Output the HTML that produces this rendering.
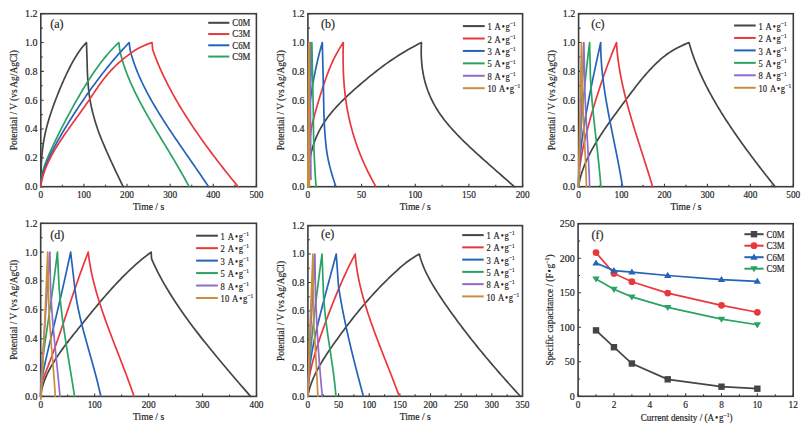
<!DOCTYPE html>
<html><head><meta charset="utf-8"><style>
html,body{margin:0;padding:0;background:#fff;}
svg{display:block;}
text{font-family:"Liberation Serif", serif;fill:#1e1e1e;stroke:#1e1e1e;stroke-width:0.18px;}
</style></head><body>
<svg width="809" height="435" viewBox="0 0 809 435">
<rect width="809" height="435" fill="#fff"/>
<path d="M40.8 186.7 v-3 M83.92 186.7 v-3 M127.04 186.7 v-3 M170.16 186.7 v-3 M213.28 186.7 v-3 M256.4 186.7 v-3 M62.36 186.7 v-2 M105.48 186.7 v-2 M148.6 186.7 v-2 M191.72 186.7 v-2 M234.84 186.7 v-2 M40.8 186.7 h3 M40.8 157.87 h3 M40.8 129.03 h3 M40.8 100.2 h3 M40.8 71.37 h3 M40.8 42.53 h3 M40.8 13.7 h3 M40.8 172.28 h2 M40.8 143.45 h2 M40.8 114.62 h2 M40.8 85.78 h2 M40.8 56.95 h2 M40.8 28.12 h2" stroke="#3c3c3c" stroke-width="1.1" fill="none"/>
<rect x="40.8" y="13.7" width="215.6" height="173" fill="none" stroke="#3c3c3c" stroke-width="1.6"/>
<text x="0" y="0" font-size="10" text-anchor="middle" transform="translate(40.8 197.7) scale(0.93 1)">0</text>
<text x="0" y="0" font-size="10" text-anchor="middle" transform="translate(83.92 197.7) scale(0.93 1)">100</text>
<text x="0" y="0" font-size="10" text-anchor="middle" transform="translate(127.04 197.7) scale(0.93 1)">200</text>
<text x="0" y="0" font-size="10" text-anchor="middle" transform="translate(170.16 197.7) scale(0.93 1)">300</text>
<text x="0" y="0" font-size="10" text-anchor="middle" transform="translate(213.28 197.7) scale(0.93 1)">400</text>
<text x="0" y="0" font-size="10" text-anchor="middle" transform="translate(256.4 197.7) scale(0.93 1)">500</text>
<text x="0" y="0" font-size="10" text-anchor="end" transform="translate(37.5 190.1)">0.0</text>
<text x="0" y="0" font-size="10" text-anchor="end" transform="translate(37.5 161.27)">0.2</text>
<text x="0" y="0" font-size="10" text-anchor="end" transform="translate(37.5 132.43)">0.4</text>
<text x="0" y="0" font-size="10" text-anchor="end" transform="translate(37.5 103.6)">0.6</text>
<text x="0" y="0" font-size="10" text-anchor="end" transform="translate(37.5 74.77)">0.8</text>
<text x="0" y="0" font-size="10" text-anchor="end" transform="translate(37.5 45.93)">1.0</text>
<text x="0" y="0" font-size="10" text-anchor="end" transform="translate(37.5 17.1)">1.2</text>
<text x="148.6" y="210.1" font-size="9.6" text-anchor="middle">Time / s</text>
<text x="0" y="0" font-size="9.6" text-anchor="middle" textLength="100" lengthAdjust="spacingAndGlyphs" transform="translate(17.3 100.2) rotate(-90)">Potential / V (vs Ag/AgCl)</text>
<text x="50.2" y="27.9" font-size="12" text-anchor="start">(a)</text>
<path d="M208.2 22.8H229.3" stroke="#454545" stroke-width="2"/>
<text x="232.3" y="26.1" font-size="9.5" text-anchor="start" textLength="18" lengthAdjust="spacingAndGlyphs">C0M</text>
<path d="M208.2 34.05H229.3" stroke="#e8383d" stroke-width="2"/>
<text x="232.3" y="37.35" font-size="9.5" text-anchor="start" textLength="18" lengthAdjust="spacingAndGlyphs">C3M</text>
<path d="M208.2 45.3H229.3" stroke="#2563b8" stroke-width="2"/>
<text x="232.3" y="48.6" font-size="9.5" text-anchor="start" textLength="18" lengthAdjust="spacingAndGlyphs">C6M</text>
<path d="M208.2 56.55H229.3" stroke="#2aa263" stroke-width="2"/>
<text x="232.3" y="59.85" font-size="9.5" text-anchor="start" textLength="18" lengthAdjust="spacingAndGlyphs">C9M</text>
<path d="M40.8 186.7L40.81 183.61L40.83 180.64L40.87 177.79L40.92 175.03L40.98 172.38L41.06 169.82L41.16 167.35L41.27 164.96L41.39 162.65L41.53 160.41L41.69 158.24L41.85 156.14L42.04 154.09L42.24 152.1L42.45 150.15L42.67 148.26L42.92 146.4L43.17 144.59L43.44 142.8L43.73 141.05L44.03 139.33L44.34 137.63L44.67 135.95L45.02 134.29L45.38 132.64L45.75 131.01L46.14 129.38L46.54 127.77L46.96 126.15L47.39 124.54L47.84 122.94L48.3 121.33L48.78 119.72L49.27 118.1L49.77 116.48L50.29 114.85L50.83 113.21L51.38 111.56L51.94 109.9L52.52 108.24L53.11 106.56L53.72 104.86L54.34 103.16L54.98 101.44L55.63 99.71L56.3 97.97L56.98 96.22L57.67 94.45L58.38 92.67L59.11 90.88L59.85 89.09L60.6 87.28L61.37 85.46L62.16 83.64L62.95 81.82L63.77 79.99L64.59 78.16L65.44 76.32L66.29 74.49L67.17 72.67L68.05 70.85L68.95 69.04L69.87 67.24L70.8 65.45L71.74 63.68L72.7 61.93L73.68 60.2L74.66 58.5L75.67 56.82L76.69 55.18L77.72 53.58L78.77 52.01L79.83 50.49L80.9 49.02L82 47.6L83.1 46.24L84.22 44.94L85.36 43.7L86.51 42.53L86.46 42.53L86.55 44.98L86.64 47.42L86.72 49.86L86.8 52.31L86.88 54.75L86.96 57.19L87.02 59.64L87.09 62.08L87.15 64.52L87.22 66.97L87.3 69.41L87.39 71.86L87.49 74.3L87.62 76.74L87.77 79.19L87.94 81.63L88.12 84.07L88.33 86.52L88.55 88.96L88.8 91.4L89.11 93.85L89.46 96.29L89.85 98.73L90.27 101.18L90.71 103.62L91.19 106.06L91.72 108.51L92.3 110.95L92.91 113.39L93.56 115.84L94.23 118.28L94.95 120.73L95.69 123.17L96.46 125.61L97.27 128.06L98.1 130.5L98.98 132.94L99.92 135.39L100.9 137.83L101.9 140.27L102.94 142.72L103.98 145.16L105.02 147.6L106.07 150.05L107.14 152.49L108.22 154.93L109.33 157.38L110.44 159.82L111.56 162.26L112.69 164.71L113.83 167.15L114.97 169.6L116.13 172.04L117.29 174.48L118.46 176.93L119.64 179.37L120.83 181.81L122.04 184.26L123.25 186.7" fill="none" stroke="#454545" stroke-width="1.7" stroke-linejoin="round" stroke-linecap="round"/>
<path d="M40.8 186.7L40.81 185.39L40.85 184.11L40.91 182.85L41 181.61L41.11 180.39L41.25 179.19L41.41 178L41.6 176.81L41.81 175.64L42.05 174.46L42.31 173.28L42.6 172.1L42.91 170.91L43.25 169.71L43.61 168.5L44 167.28L44.41 166.04L44.85 164.78L45.31 163.5L45.8 162.2L46.31 160.88L46.85 159.53L47.42 158.16L48 156.75L48.62 155.32L49.25 153.86L49.92 152.36L50.6 150.83L51.32 149.27L52.06 147.67L52.82 146.04L53.61 144.37L54.42 142.67L55.26 140.93L56.12 139.15L57.01 137.34L57.92 135.49L58.86 133.6L59.82 131.68L60.81 129.72L61.82 127.73L62.86 125.7L63.92 123.64L65.01 121.55L66.12 119.42L67.26 117.27L68.42 115.08L69.61 112.87L70.83 110.62L72.06 108.36L73.33 106.07L74.62 103.76L75.93 101.42L77.27 99.07L78.63 96.71L80.02 94.32L81.43 91.93L82.87 89.53L84.33 87.12L85.82 84.71L87.33 82.3L88.87 79.89L90.43 77.48L92.02 75.09L93.64 72.7L95.27 70.33L96.94 67.97L98.63 65.64L100.34 63.33L102.08 61.05L103.84 58.81L105.63 56.6L107.44 54.43L109.28 52.31L111.14 50.24L113.03 48.22L114.95 46.26L116.88 44.36L118.85 42.53L118.85 42.53L119.71 49.74L120.21 52.06L120.76 54.38L121.36 56.71L121.99 59.03L122.67 61.35L123.38 63.67L124.14 65.99L124.93 68.31L125.76 70.63L126.63 72.95L127.53 75.28L128.46 77.6L129.42 79.92L130.42 82.24L131.45 84.56L132.5 86.88L133.58 89.2L134.69 91.53L135.83 93.85L136.99 96.17L138.17 98.49L139.37 100.81L140.6 103.13L141.84 105.45L143.11 107.77L144.39 110.1L145.68 112.42L147 114.74L148.32 117.06L149.66 119.38L151.02 121.7L152.38 124.02L153.75 126.35L155.13 128.67L156.52 130.99L157.91 133.31L159.31 135.63L160.72 137.95L162.12 140.27L163.53 142.59L164.94 144.92L166.35 147.24L167.76 149.56L169.16 151.88L170.56 154.2L171.96 156.52L173.35 158.84L174.73 161.17L176.1 163.49L177.47 165.81L178.82 168.13L180.16 170.45L181.49 172.77L182.81 175.09L184.11 177.41L185.39 179.74L186.66 182.06L187.9 184.38L189.13 186.7" fill="none" stroke="#2aa263" stroke-width="1.7" stroke-linejoin="round" stroke-linecap="round"/>
<path d="M40.8 186.7L40.81 185.68L40.86 184.64L40.93 183.6L41.03 182.56L41.15 181.5L41.31 180.42L41.49 179.34L41.71 178.24L41.95 177.13L42.22 176L42.51 174.85L42.84 173.68L43.19 172.5L43.58 171.29L43.99 170.07L44.43 168.82L44.89 167.55L45.39 166.25L45.91 164.93L46.47 163.59L47.05 162.22L47.66 160.83L48.29 159.41L48.96 157.96L49.65 156.49L50.37 154.98L51.13 153.46L51.9 151.9L52.71 150.31L53.55 148.7L54.41 147.06L55.3 145.38L56.22 143.68L57.17 141.95L58.15 140.2L59.16 138.41L60.19 136.6L61.25 134.75L62.34 132.88L63.46 130.98L64.61 129.05L65.78 127.1L66.99 125.12L68.22 123.11L69.48 121.07L70.77 119.01L72.09 116.93L73.43 114.82L74.81 112.68L76.21 110.53L77.64 108.35L79.1 106.15L80.59 103.93L82.1 101.68L83.65 99.42L85.22 97.14L86.82 94.85L88.45 92.54L90.1 90.21L91.79 87.87L93.5 85.51L95.25 83.15L97.02 80.77L98.81 78.39L100.64 75.99L102.5 73.59L104.38 71.19L106.29 68.78L108.23 66.37L110.2 63.96L112.2 61.55L114.22 59.15L116.28 56.75L118.36 54.35L120.47 51.96L122.61 49.59L124.78 47.22L126.97 44.87L129.2 42.53L129.2 42.53L130.06 49.74L130.65 52.06L131.28 54.38L131.96 56.71L132.67 59.03L133.43 61.35L134.23 63.67L135.07 65.99L135.94 68.31L136.86 70.63L137.81 72.95L138.79 75.28L139.81 77.6L140.86 79.92L141.94 82.24L143.06 84.56L144.2 86.88L145.38 89.2L146.58 91.53L147.81 93.85L149.07 96.17L150.35 98.49L151.66 100.81L152.99 103.13L154.34 105.45L155.72 107.77L157.11 110.1L158.53 112.42L159.96 114.74L161.42 117.06L162.89 119.38L164.37 121.7L165.87 124.02L167.39 126.35L168.91 128.67L170.45 130.99L172 133.31L173.56 135.63L175.13 137.95L176.71 140.27L178.3 142.59L179.89 144.92L181.49 147.24L183.09 149.56L184.69 151.88L186.3 154.2L187.91 156.52L189.52 158.84L191.13 161.17L192.74 163.49L194.35 165.81L195.95 168.13L197.55 170.45L199.14 172.77L200.73 175.09L202.31 177.41L203.88 179.74L205.44 182.06L206.99 184.38L208.54 186.7" fill="none" stroke="#2563b8" stroke-width="1.7" stroke-linejoin="round" stroke-linecap="round"/>
<path d="M40.8 186.7L41.03 184.88L41.33 183.05L41.67 181.23L42.08 179.4L42.53 177.58L43.03 175.75L43.59 173.93L44.19 172.1L44.84 170.28L45.53 168.45L46.27 166.63L47.05 164.8L47.87 162.98L48.73 161.15L49.62 159.33L50.55 157.5L51.51 155.68L52.51 153.85L53.54 152.03L54.59 150.2L55.68 148.38L56.79 146.55L57.92 144.73L59.08 142.9L60.26 141.08L61.46 139.25L62.67 137.43L63.91 135.6L65.16 133.78L66.42 131.95L67.69 130.13L68.98 128.3L70.27 126.48L71.58 124.65L72.89 122.83L74.2 121L75.51 119.18L76.83 117.35L78.15 115.53L79.46 113.7L80.77 111.88L82.08 110.05L83.38 108.23L84.67 106.4L85.95 104.58L87.22 102.75L88.48 100.93L89.72 99.11L90.95 97.28L92.18 95.46L93.4 93.63L94.63 91.81L95.86 89.98L97.11 88.16L98.38 86.33L99.68 84.51L101 82.68L102.36 80.86L103.76 79.03L105.2 77.21L106.7 75.38L108.25 73.56L109.86 71.73L111.53 69.91L113.28 68.08L115.1 66.26L117.01 64.43L119 62.61L121.08 60.78L123.26 58.96L125.55 57.13L127.94 55.31L130.44 53.48L133.06 51.66L135.86 49.83L139 48.01L142.63 46.18L146.92 44.36L152.04 42.53L152.05 42.53L152.7 49.74L153.52 52.06L154.37 54.38L155.25 56.71L156.16 59.03L157.09 61.35L158.05 63.67L159.03 65.99L160.04 68.31L161.08 70.63L162.14 72.95L163.22 75.28L164.33 77.6L165.46 79.92L166.61 82.24L167.79 84.56L168.99 86.88L170.22 89.2L171.46 91.53L172.73 93.85L174.02 96.17L175.33 98.49L176.66 100.81L178.02 103.13L179.39 105.45L180.79 107.77L182.2 110.1L183.63 112.42L185.09 114.74L186.56 117.06L188.05 119.38L189.56 121.7L191.09 124.02L192.63 126.35L194.2 128.67L195.78 130.99L197.38 133.31L198.99 135.63L200.62 137.95L202.27 140.27L203.93 142.59L205.61 144.92L207.3 147.24L209.01 149.56L210.73 151.88L212.47 154.2L214.22 156.52L215.98 158.84L217.76 161.17L219.55 163.49L221.36 165.81L223.17 168.13L225 170.45L226.84 172.77L228.69 175.09L230.56 177.41L232.43 179.74L234.32 182.06L236.21 184.38L238.12 186.7" fill="none" stroke="#e8383d" stroke-width="1.7" stroke-linejoin="round" stroke-linecap="round"/>
<path d="M307.9 186.7 v-3 M361.57 186.7 v-3 M415.25 186.7 v-3 M468.93 186.7 v-3 M522.6 186.7 v-3 M334.74 186.7 v-2 M388.41 186.7 v-2 M442.09 186.7 v-2 M495.76 186.7 v-2 M307.9 186.7 h3 M307.9 157.87 h3 M307.9 129.03 h3 M307.9 100.2 h3 M307.9 71.37 h3 M307.9 42.53 h3 M307.9 13.7 h3 M307.9 172.28 h2 M307.9 143.45 h2 M307.9 114.62 h2 M307.9 85.78 h2 M307.9 56.95 h2 M307.9 28.12 h2" stroke="#3c3c3c" stroke-width="1.1" fill="none"/>
<rect x="307.9" y="13.7" width="214.7" height="173" fill="none" stroke="#3c3c3c" stroke-width="1.6"/>
<text x="0" y="0" font-size="10" text-anchor="middle" transform="translate(307.9 197.7) scale(0.93 1)">0</text>
<text x="0" y="0" font-size="10" text-anchor="middle" transform="translate(361.57 197.7) scale(0.93 1)">50</text>
<text x="0" y="0" font-size="10" text-anchor="middle" transform="translate(415.25 197.7) scale(0.93 1)">100</text>
<text x="0" y="0" font-size="10" text-anchor="middle" transform="translate(468.93 197.7) scale(0.93 1)">150</text>
<text x="0" y="0" font-size="10" text-anchor="middle" transform="translate(522.6 197.7) scale(0.93 1)">200</text>
<text x="0" y="0" font-size="10" text-anchor="end" transform="translate(304.6 190.1)">0.0</text>
<text x="0" y="0" font-size="10" text-anchor="end" transform="translate(304.6 161.27)">0.2</text>
<text x="0" y="0" font-size="10" text-anchor="end" transform="translate(304.6 132.43)">0.4</text>
<text x="0" y="0" font-size="10" text-anchor="end" transform="translate(304.6 103.6)">0.6</text>
<text x="0" y="0" font-size="10" text-anchor="end" transform="translate(304.6 74.77)">0.8</text>
<text x="0" y="0" font-size="10" text-anchor="end" transform="translate(304.6 45.93)">1.0</text>
<text x="0" y="0" font-size="10" text-anchor="end" transform="translate(304.6 17.1)">1.2</text>
<text x="415.25" y="210.1" font-size="9.6" text-anchor="middle">Time / s</text>
<text x="0" y="0" font-size="9.6" text-anchor="middle" textLength="100" lengthAdjust="spacingAndGlyphs" transform="translate(284.4 100.2) rotate(-90)">Potential / V (vs Ag/AgCl)</text>
<text x="321" y="27.9" font-size="12" text-anchor="start">(b)</text>
<path d="M462.9 26.1H484.7" stroke="#454545" stroke-width="2"/>
<text x="0" y="0" font-size="10" transform="translate(487.4 30.2) scale(0.86 1)">1 <tspan dx="0.9">A</tspan><tspan dx="1.0">&#8226;</tspan><tspan dx="1.0">g</tspan><tspan font-size="6.2" dy="-3.9" dx="0.3">&#8722;1</tspan></text>
<path d="M462.9 38.52H484.7" stroke="#e8383d" stroke-width="2"/>
<text x="0" y="0" font-size="10" transform="translate(487.4 42.62) scale(0.86 1)">2 <tspan dx="0.9">A</tspan><tspan dx="1.0">&#8226;</tspan><tspan dx="1.0">g</tspan><tspan font-size="6.2" dy="-3.9" dx="0.3">&#8722;1</tspan></text>
<path d="M462.9 50.94H484.7" stroke="#2563b8" stroke-width="2"/>
<text x="0" y="0" font-size="10" transform="translate(487.4 55.04) scale(0.86 1)">3 <tspan dx="0.9">A</tspan><tspan dx="1.0">&#8226;</tspan><tspan dx="1.0">g</tspan><tspan font-size="6.2" dy="-3.9" dx="0.3">&#8722;1</tspan></text>
<path d="M462.9 63.36H484.7" stroke="#2aa263" stroke-width="2"/>
<text x="0" y="0" font-size="10" transform="translate(487.4 67.46) scale(0.86 1)">5 <tspan dx="0.9">A</tspan><tspan dx="1.0">&#8226;</tspan><tspan dx="1.0">g</tspan><tspan font-size="6.2" dy="-3.9" dx="0.3">&#8722;1</tspan></text>
<path d="M462.9 75.78H484.7" stroke="#8f6bcb" stroke-width="2"/>
<text x="0" y="0" font-size="10" transform="translate(487.4 79.88) scale(0.86 1)">8 <tspan dx="0.9">A</tspan><tspan dx="1.0">&#8226;</tspan><tspan dx="1.0">g</tspan><tspan font-size="6.2" dy="-3.9" dx="0.3">&#8722;1</tspan></text>
<path d="M462.9 88.2H484.7" stroke="#c98e3a" stroke-width="2"/>
<text x="0" y="0" font-size="10" transform="translate(487.4 92.3) scale(0.86 1)">10 <tspan dx="0.9">A</tspan><tspan dx="1.0">&#8226;</tspan><tspan dx="1.0">g</tspan><tspan font-size="6.2" dy="-3.9" dx="0.3">&#8722;1</tspan></text>
<path d="M307.9 186.7L307.91 184.88L307.92 183.05L307.96 181.23L308 179.4L308.07 177.58L308.15 175.75L308.25 173.93L308.36 172.1L308.5 170.28L308.67 168.45L308.86 166.63L309.07 164.8L309.31 162.98L309.57 161.15L309.87 159.33L310.2 157.5L310.55 155.68L310.94 153.85L311.37 152.03L311.83 150.2L312.33 148.38L312.86 146.55L313.44 144.73L314.06 142.9L314.71 141.08L315.41 139.25L316.16 137.43L316.95 135.6L317.79 133.78L318.68 131.95L319.62 130.13L320.6 128.3L321.64 126.48L322.74 124.65L323.89 122.83L325.09 121L326.35 119.18L327.68 117.35L329.06 115.53L330.5 113.7L332 111.88L333.57 110.05L335.18 108.23L336.86 106.4L338.58 104.58L340.35 102.75L342.17 100.93L344.03 99.11L345.93 97.28L347.86 95.46L349.84 93.63L351.84 91.81L353.87 89.98L355.94 88.16L358.02 86.33L360.13 84.51L362.26 82.68L364.42 80.86L366.6 79.03L368.81 77.21L371.05 75.38L373.32 73.56L375.63 71.73L377.97 69.91L380.36 68.08L382.79 66.26L385.28 64.43L387.83 62.61L390.44 60.78L393.13 58.96L395.89 57.13L398.74 55.31L401.67 53.48L404.7 51.66L407.83 49.83L411.07 48.01L414.41 46.18L417.88 44.36L421.47 42.53L421.48 42.53L421.39 44.36L421.31 46.18L421.26 48.01L421.23 49.83L421.22 51.66L421.23 53.48L421.27 55.31L421.34 57.13L421.43 58.96L421.54 60.78L421.68 62.61L421.85 64.43L422.05 66.26L422.28 68.08L422.54 69.91L422.83 71.73L423.15 73.56L423.5 75.38L423.89 77.21L424.31 79.03L424.76 80.86L425.25 82.68L425.78 84.51L426.35 86.33L426.95 88.16L427.59 89.98L428.27 91.81L429 93.63L429.76 95.46L430.56 97.28L431.41 99.11L432.3 100.93L433.24 102.75L434.22 104.58L435.24 106.4L436.32 108.23L437.44 110.05L438.61 111.88L439.82 113.7L441.09 115.53L442.41 117.35L443.78 119.18L445.2 121L446.67 122.83L448.18 124.65L449.74 126.48L451.34 128.3L452.98 130.13L454.67 131.95L456.38 133.78L458.14 135.6L459.93 137.43L461.74 139.25L463.59 141.08L465.47 142.9L467.37 144.73L469.29 146.55L471.24 148.38L473.21 150.2L475.19 152.03L477.2 153.85L479.21 155.68L481.24 157.5L483.28 159.33L485.33 161.15L487.39 162.98L489.45 164.8L491.52 166.63L493.6 168.45L495.68 170.28L497.76 172.1L499.84 173.93L501.92 175.75L504 177.58L506.08 179.4L508.15 181.23L510.22 183.05L512.28 184.88L514.33 186.7" fill="none" stroke="#454545" stroke-width="1.7" stroke-linejoin="round" stroke-linecap="round"/>
<path d="M307.9 186.7L307.95 184.26L308 181.81L308.07 179.37L308.14 176.93L308.21 174.48L308.29 172.04L308.38 169.6L308.47 167.15L308.56 164.71L308.66 162.26L308.76 159.82L308.87 157.38L308.99 154.93L309.13 152.49L309.27 150.05L309.42 147.6L309.59 145.16L309.78 142.72L309.98 140.27L310.2 137.83L310.45 135.39L310.73 132.94L311.05 130.5L311.4 128.06L311.86 125.61L312.44 123.17L313.09 120.73L313.74 118.28L314.37 115.84L315.02 113.39L315.69 110.95L316.37 108.51L317.07 106.06L317.78 103.62L318.5 101.18L319.22 98.73L319.97 96.29L320.72 93.85L321.5 91.4L322.29 88.96L323.1 86.52L323.93 84.07L324.76 81.63L325.61 79.19L326.48 76.74L327.37 74.3L328.28 71.86L329.23 69.41L330.22 66.97L331.26 64.52L332.34 62.08L333.48 59.64L334.7 57.19L335.98 54.75L337.33 52.31L338.73 49.86L340.18 47.42L341.68 44.98L343.22 42.53L343.33 42.53L343.27 44.36L343.22 46.18L343.18 48.01L343.15 49.83L343.12 51.66L343.1 53.48L343.09 55.31L343.08 57.13L343.08 58.96L343.1 60.78L343.12 62.61L343.15 64.43L343.19 66.26L343.23 68.08L343.29 69.91L343.36 71.73L343.43 73.56L343.52 75.38L343.62 77.21L343.73 79.03L343.85 80.86L343.98 82.68L344.12 84.51L344.27 86.33L344.44 88.16L344.62 89.98L344.81 91.81L345.01 93.63L345.22 95.46L345.45 97.28L345.69 99.11L345.95 100.93L346.22 102.75L346.5 104.58L346.79 106.4L347.11 108.23L347.43 110.05L347.77 111.88L348.13 113.7L348.5 115.53L348.88 117.35L349.29 119.18L349.7 121L350.14 122.83L350.59 124.65L351.05 126.48L351.53 128.3L352.03 130.13L352.54 131.95L353.07 133.78L353.62 135.6L354.18 137.43L354.76 139.25L355.36 141.08L355.97 142.9L356.6 144.73L357.25 146.55L357.91 148.38L358.59 150.2L359.29 152.03L360 153.85L360.74 155.68L361.49 157.5L362.26 159.33L363.04 161.15L363.85 162.98L364.67 164.8L365.51 166.63L366.37 168.45L367.24 170.28L368.14 172.1L369.05 173.93L369.98 175.75L370.93 177.58L371.9 179.4L372.89 181.23L373.89 183.05L374.92 184.88L375.96 186.7" fill="none" stroke="#e8383d" stroke-width="1.7" stroke-linejoin="round" stroke-linecap="round"/>
<path d="M307.9 186.7L307.93 184.26L307.97 181.81L308.01 179.37L308.05 176.93L308.09 174.48L308.13 172.04L308.18 169.6L308.22 167.15L308.27 164.71L308.32 162.26L308.38 159.82L308.43 157.38L308.48 154.93L308.54 152.49L308.6 150.05L308.66 147.6L308.72 145.16L308.78 142.72L308.84 140.27L308.89 137.83L308.95 135.39L309.01 132.94L309.07 130.5L309.13 128.06L309.19 125.61L309.26 123.17L309.34 120.73L309.42 118.28L309.51 115.84L309.6 113.39L309.71 110.95L309.82 108.51L309.95 106.06L310.09 103.62L310.29 101.18L310.56 98.73L310.88 96.29L311.24 93.85L311.63 91.4L312.01 88.96L312.4 86.52L312.8 84.07L313.22 81.63L313.66 79.19L314.13 76.74L314.61 74.3L315.1 71.86L315.61 69.41L316.13 66.97L316.67 64.52L317.21 62.08L317.78 59.64L318.37 57.19L318.98 54.75L319.6 52.31L320.25 49.86L320.91 47.42L321.59 44.98L322.28 42.53L322.28 42.53L322.35 44.98L322.41 47.42L322.47 49.86L322.54 52.31L322.6 54.75L322.66 57.19L322.72 59.64L322.78 62.08L322.84 64.52L322.9 66.97L322.96 69.41L323.02 71.86L323.08 74.3L323.14 76.74L323.2 79.19L323.26 81.63L323.32 84.07L323.38 86.52L323.43 88.96L323.48 91.4L323.53 93.85L323.57 96.29L323.62 98.73L323.66 101.18L323.71 103.62L323.76 106.06L323.81 108.51L323.87 110.95L323.94 113.39L324.01 115.84L324.09 118.28L324.18 120.73L324.28 123.17L324.41 125.61L324.55 128.06L324.71 130.5L324.88 132.94L325.07 135.39L325.27 137.83L325.49 140.27L325.73 142.72L325.98 145.16L326.24 147.6L326.55 150.05L326.91 152.49L327.31 154.93L327.76 157.38L328.25 159.82L328.78 162.26L329.35 164.71L329.96 167.15L330.6 169.6L331.28 172.04L331.98 174.48L332.72 176.93L333.48 179.37L334.27 181.81L335.08 184.26L335.92 186.7" fill="none" stroke="#2563b8" stroke-width="1.7" stroke-linejoin="round" stroke-linecap="round"/>
<path d="M307.9 186.7L309.51 114.62L311.87 42.53L311.87 42.53L313.37 115.05L313.38 116.26L313.38 117.48L313.38 118.69L313.39 119.91L313.39 121.12L313.4 122.34L313.41 123.55L313.42 124.76L313.44 125.98L313.45 127.19L313.47 128.41L313.49 129.62L313.51 130.84L313.53 132.05L313.55 133.27L313.57 134.48L313.6 135.69L313.63 136.91L313.65 138.12L313.68 139.34L313.72 140.55L313.75 141.77L313.78 142.98L313.82 144.2L313.86 145.41L313.9 146.62L313.94 147.84L313.98 149.05L314.02 150.27L314.07 151.48L314.12 152.7L314.17 153.91L314.22 155.13L314.27 156.34L314.32 157.55L314.38 158.77L314.43 159.98L314.49 161.2L314.55 162.41L314.61 163.63L314.67 164.84L314.74 166.05L314.8 167.27L314.87 168.48L314.94 169.7L315.01 170.91L315.08 172.13L315.15 173.34L315.23 174.56L315.3 175.77L315.38 176.98L315.46 178.2L315.54 179.41L315.62 180.63L315.71 181.84L315.79 183.06L315.88 184.27L315.97 185.49L316.06 186.7" fill="none" stroke="#2aa263" stroke-width="1.7" stroke-linejoin="round" stroke-linecap="round"/>
<path d="M307.9 186.7L309.19 114.62L310.05 42.53L310.05 42.53L310.48 114.62L310.91 179.49" fill="none" stroke="#8f6bcb" stroke-width="1.7" stroke-linejoin="round" stroke-linecap="round"/>
<path d="M307.9 186.7L308.54 114.62L308.97 42.53L308.97 42.53L309.08 114.62L309.19 186.7" fill="none" stroke="#c98e3a" stroke-width="2.0" stroke-linejoin="round" stroke-linecap="round"/>
<path d="M578.6 186.7 v-3 M621.54 186.7 v-3 M664.48 186.7 v-3 M707.42 186.7 v-3 M750.36 186.7 v-3 M793.3 186.7 v-3 M600.07 186.7 v-2 M643.01 186.7 v-2 M685.95 186.7 v-2 M728.89 186.7 v-2 M771.83 186.7 v-2 M578.6 186.7 h3 M578.6 157.87 h3 M578.6 129.03 h3 M578.6 100.2 h3 M578.6 71.37 h3 M578.6 42.53 h3 M578.6 13.7 h3 M578.6 172.28 h2 M578.6 143.45 h2 M578.6 114.62 h2 M578.6 85.78 h2 M578.6 56.95 h2 M578.6 28.12 h2" stroke="#3c3c3c" stroke-width="1.1" fill="none"/>
<rect x="578.6" y="13.7" width="214.7" height="173" fill="none" stroke="#3c3c3c" stroke-width="1.6"/>
<text x="0" y="0" font-size="10" text-anchor="middle" transform="translate(578.6 197.7) scale(0.93 1)">0</text>
<text x="0" y="0" font-size="10" text-anchor="middle" transform="translate(621.54 197.7) scale(0.93 1)">100</text>
<text x="0" y="0" font-size="10" text-anchor="middle" transform="translate(664.48 197.7) scale(0.93 1)">200</text>
<text x="0" y="0" font-size="10" text-anchor="middle" transform="translate(707.42 197.7) scale(0.93 1)">300</text>
<text x="0" y="0" font-size="10" text-anchor="middle" transform="translate(750.36 197.7) scale(0.93 1)">400</text>
<text x="0" y="0" font-size="10" text-anchor="middle" transform="translate(793.3 197.7) scale(0.93 1)">500</text>
<text x="0" y="0" font-size="10" text-anchor="end" transform="translate(575.3 190.1)">0.0</text>
<text x="0" y="0" font-size="10" text-anchor="end" transform="translate(575.3 161.27)">0.2</text>
<text x="0" y="0" font-size="10" text-anchor="end" transform="translate(575.3 132.43)">0.4</text>
<text x="0" y="0" font-size="10" text-anchor="end" transform="translate(575.3 103.6)">0.6</text>
<text x="0" y="0" font-size="10" text-anchor="end" transform="translate(575.3 74.77)">0.8</text>
<text x="0" y="0" font-size="10" text-anchor="end" transform="translate(575.3 45.93)">1.0</text>
<text x="0" y="0" font-size="10" text-anchor="end" transform="translate(575.3 17.1)">1.2</text>
<text x="685.95" y="210.1" font-size="9.6" text-anchor="middle">Time / s</text>
<text x="0" y="0" font-size="9.6" text-anchor="middle" textLength="100" lengthAdjust="spacingAndGlyphs" transform="translate(555.1 100.2) rotate(-90)">Potential / V (vs Ag/AgCl)</text>
<text x="591.3" y="27.9" font-size="12" text-anchor="start">(c)</text>
<path d="M734.1 25.5H755.7" stroke="#454545" stroke-width="2"/>
<text x="0" y="0" font-size="10" transform="translate(758.4 29.6) scale(0.86 1)">1 <tspan dx="0.9">A</tspan><tspan dx="1.0">&#8226;</tspan><tspan dx="1.0">g</tspan><tspan font-size="6.2" dy="-3.9" dx="0.3">&#8722;1</tspan></text>
<path d="M734.1 37.95H755.7" stroke="#e8383d" stroke-width="2"/>
<text x="0" y="0" font-size="10" transform="translate(758.4 42.05) scale(0.86 1)">2 <tspan dx="0.9">A</tspan><tspan dx="1.0">&#8226;</tspan><tspan dx="1.0">g</tspan><tspan font-size="6.2" dy="-3.9" dx="0.3">&#8722;1</tspan></text>
<path d="M734.1 50.4H755.7" stroke="#2563b8" stroke-width="2"/>
<text x="0" y="0" font-size="10" transform="translate(758.4 54.5) scale(0.86 1)">3 <tspan dx="0.9">A</tspan><tspan dx="1.0">&#8226;</tspan><tspan dx="1.0">g</tspan><tspan font-size="6.2" dy="-3.9" dx="0.3">&#8722;1</tspan></text>
<path d="M734.1 62.85H755.7" stroke="#2aa263" stroke-width="2"/>
<text x="0" y="0" font-size="10" transform="translate(758.4 66.95) scale(0.86 1)">5 <tspan dx="0.9">A</tspan><tspan dx="1.0">&#8226;</tspan><tspan dx="1.0">g</tspan><tspan font-size="6.2" dy="-3.9" dx="0.3">&#8722;1</tspan></text>
<path d="M734.1 75.3H755.7" stroke="#8f6bcb" stroke-width="2"/>
<text x="0" y="0" font-size="10" transform="translate(758.4 79.4) scale(0.86 1)">8 <tspan dx="0.9">A</tspan><tspan dx="1.0">&#8226;</tspan><tspan dx="1.0">g</tspan><tspan font-size="6.2" dy="-3.9" dx="0.3">&#8722;1</tspan></text>
<path d="M734.1 87.75H755.7" stroke="#c98e3a" stroke-width="2"/>
<text x="0" y="0" font-size="10" transform="translate(758.4 91.85) scale(0.86 1)">10 <tspan dx="0.9">A</tspan><tspan dx="1.0">&#8226;</tspan><tspan dx="1.0">g</tspan><tspan font-size="6.2" dy="-3.9" dx="0.3">&#8722;1</tspan></text>
<path d="M578.6 186.7L578.87 184.88L579.18 183.05L579.54 181.23L579.94 179.4L580.39 177.58L580.88 175.75L581.41 173.93L581.98 172.1L582.6 170.28L583.25 168.45L583.93 166.63L584.66 164.8L585.42 162.98L586.21 161.15L587.04 159.33L587.9 157.5L588.79 155.68L589.71 153.85L590.66 152.03L591.64 150.2L592.65 148.38L593.68 146.55L594.74 144.73L595.82 142.9L596.92 141.08L598.05 139.25L599.2 137.43L600.37 135.6L601.55 133.78L602.76 131.95L603.98 130.13L605.22 128.3L606.48 126.48L607.74 124.65L609.02 122.83L610.32 121L611.62 119.18L612.93 117.35L614.26 115.53L615.59 113.7L616.92 111.88L618.27 110.05L619.61 108.23L620.97 106.4L622.32 104.58L623.68 102.75L625.03 100.93L626.39 99.11L627.75 97.28L629.1 95.46L630.46 93.63L631.83 91.81L633.21 89.98L634.6 88.16L636 86.33L637.43 84.51L638.87 82.68L640.34 80.86L641.84 79.03L643.37 77.21L644.93 75.38L646.52 73.56L648.16 71.73L649.84 69.91L651.56 68.08L653.33 66.26L655.15 64.43L657.03 62.61L658.97 60.78L661.02 58.96L663.19 57.13L665.53 55.31L668.06 53.48L670.81 51.66L673.82 49.83L677.11 48.01L680.71 46.18L684.66 44.36L688.99 42.53L688.99 42.53L689.5 44.36L690.04 46.18L690.59 48.01L691.16 49.83L691.75 51.66L692.36 53.48L692.99 55.31L693.64 57.13L694.31 58.96L695 60.78L695.7 62.61L696.43 64.43L697.17 66.26L697.93 68.08L698.7 69.91L699.5 71.73L700.31 73.56L701.14 75.38L701.98 77.21L702.84 79.03L703.72 80.86L704.61 82.68L705.52 84.51L706.44 86.33L707.38 88.16L708.34 89.98L709.31 91.81L710.29 93.63L711.29 95.46L712.31 97.28L713.33 99.11L714.37 100.93L715.43 102.75L716.5 104.58L717.58 106.4L718.68 108.23L719.78 110.05L720.9 111.88L722.04 113.7L723.18 115.53L724.34 117.35L725.51 119.18L726.69 121L727.88 122.83L729.08 124.65L730.3 126.48L731.52 128.3L732.76 130.13L734 131.95L735.26 133.78L736.52 135.6L737.8 137.43L739.08 139.25L740.37 141.08L741.68 142.9L742.99 144.73L744.31 146.55L745.64 148.38L746.97 150.2L748.32 152.03L749.67 153.85L751.03 155.68L752.4 157.5L753.77 159.33L755.15 161.15L756.54 162.98L757.93 164.8L759.33 166.63L760.74 168.45L762.15 170.28L763.57 172.1L764.99 173.93L766.42 175.75L767.86 177.58L769.29 179.4L770.74 181.23L772.18 183.05L773.64 184.88L775.09 186.7" fill="none" stroke="#454545" stroke-width="1.7" stroke-linejoin="round" stroke-linecap="round"/>
<path d="M578.6 186.7L578.61 185.3L578.62 183.9L578.65 182.51L578.7 181.12L578.75 179.74L578.82 178.36L578.9 176.98L578.99 175.6L579.09 174.22L579.21 172.83L579.34 171.44L579.47 170.05L579.63 168.65L579.79 167.24L579.97 165.83L580.16 164.4L580.36 162.97L580.57 161.52L580.79 160.07L581.03 158.6L581.28 157.12L581.54 155.62L581.81 154.12L582.1 152.59L582.4 151.05L582.71 149.5L583.03 147.93L583.36 146.34L583.71 144.73L584.07 143.1L584.44 141.46L584.82 139.8L585.22 138.12L585.62 136.42L586.04 134.7L586.47 132.96L586.92 131.2L587.37 129.42L587.84 127.62L588.32 125.8L588.81 123.97L589.32 122.11L589.83 120.23L590.36 118.33L590.9 116.41L591.46 114.47L592.02 112.51L592.6 110.53L593.19 108.53L593.79 106.52L594.4 104.48L595.03 102.43L595.67 100.36L596.32 98.27L596.98 96.17L597.65 94.05L598.34 91.91L599.04 89.76L599.75 87.59L600.47 85.42L601.21 83.22L601.95 81.02L602.71 78.8L603.48 76.58L604.27 74.34L605.06 72.09L605.87 69.84L606.69 67.58L607.52 65.31L608.37 63.04L609.23 60.76L610.09 58.48L610.98 56.2L611.87 53.92L612.77 51.63L613.69 49.35L614.62 47.07L615.56 44.8L616.52 42.53L616.52 42.53L616.62 44.36L616.74 46.18L616.87 48.01L617.02 49.83L617.19 51.66L617.37 53.48L617.57 55.31L617.78 57.13L618 58.96L618.24 60.78L618.49 62.61L618.75 64.43L619.03 66.26L619.32 68.08L619.62 69.91L619.94 71.73L620.26 73.56L620.6 75.38L620.95 77.21L621.31 79.03L621.68 80.86L622.06 82.68L622.46 84.51L622.86 86.33L623.27 88.16L623.69 89.98L624.12 91.81L624.56 93.63L625.01 95.46L625.47 97.28L625.93 99.11L626.41 100.93L626.89 102.75L627.38 104.58L627.87 106.4L628.37 108.23L628.88 110.05L629.4 111.88L629.92 113.7L630.44 115.53L630.97 117.35L631.51 119.18L632.05 121L632.6 122.83L633.15 124.65L633.71 126.48L634.27 128.3L634.83 130.13L635.39 131.95L635.96 133.78L636.54 135.6L637.11 137.43L637.69 139.25L638.26 141.08L638.84 142.9L639.43 144.73L640.01 146.55L640.59 148.38L641.18 150.2L641.76 152.03L642.35 153.85L642.93 155.68L643.52 157.5L644.1 159.33L644.68 161.15L645.26 162.98L645.84 164.8L646.42 166.63L647 168.45L647.57 170.28L648.14 172.1L648.71 173.93L649.28 175.75L649.84 177.58L650.4 179.4L650.95 181.23L651.5 183.05L652.04 184.88L652.59 186.7" fill="none" stroke="#e8383d" stroke-width="1.7" stroke-linejoin="round" stroke-linecap="round"/>
<path d="M578.6 186.7L578.6 185.28L578.61 183.85L578.63 182.42L578.66 180.99L578.69 179.55L578.73 178.11L578.77 176.67L578.83 175.22L578.89 173.76L578.95 172.3L579.03 170.83L579.11 169.36L579.2 167.88L579.29 166.4L579.4 164.91L579.51 163.41L579.62 161.91L579.75 160.39L579.88 158.87L580.02 157.34L580.16 155.81L580.31 154.26L580.47 152.71L580.64 151.14L580.81 149.57L581 147.98L581.18 146.39L581.38 144.79L581.58 143.17L581.79 141.55L582.01 139.91L582.23 138.26L582.46 136.6L582.7 134.93L582.94 133.24L583.19 131.55L583.45 129.83L583.72 128.11L583.99 126.37L584.27 124.62L584.56 122.86L584.85 121.08L585.15 119.28L585.46 117.48L585.78 115.65L586.1 113.81L586.43 111.96L586.76 110.08L587.11 108.2L587.46 106.29L587.82 104.37L588.18 102.43L588.55 100.47L588.93 98.5L589.32 96.51L589.71 94.5L590.11 92.47L590.52 90.42L590.93 88.35L591.36 86.27L591.78 84.16L592.22 82.03L592.66 79.89L593.11 77.72L593.57 75.53L594.03 73.32L594.51 71.09L594.98 68.83L595.47 66.56L595.96 64.26L596.46 61.94L596.97 59.6L597.48 57.23L598 54.84L598.53 52.43L599.07 49.99L599.61 47.53L600.16 45.04L600.71 42.53L600.71 42.53L600.71 44.36L600.72 46.18L600.75 48.01L600.79 49.83L600.84 51.66L600.9 53.48L600.98 55.31L601.07 57.13L601.17 58.96L601.28 60.78L601.41 62.61L601.54 64.43L601.69 66.26L601.85 68.08L602.02 69.91L602.2 71.73L602.38 73.56L602.58 75.38L602.79 77.21L603.01 79.03L603.23 80.86L603.47 82.68L603.71 84.51L603.96 86.33L604.22 88.16L604.48 89.98L604.76 91.81L605.04 93.63L605.33 95.46L605.62 97.28L605.92 99.11L606.23 100.93L606.54 102.75L606.86 104.58L607.18 106.4L607.51 108.23L607.84 110.05L608.17 111.88L608.51 113.7L608.86 115.53L609.21 117.35L609.56 119.18L609.91 121L610.27 122.83L610.63 124.65L610.99 126.48L611.36 128.3L611.73 130.13L612.09 131.95L612.46 133.78L612.83 135.6L613.2 137.43L613.57 139.25L613.95 141.08L614.32 142.9L614.69 144.73L615.06 146.55L615.43 148.38L615.8 150.2L616.16 152.03L616.53 153.85L616.89 155.68L617.25 157.5L617.61 159.33L617.97 161.15L618.32 162.98L618.67 164.8L619.02 166.63L619.36 168.45L619.7 170.28L620.04 172.1L620.37 173.93L620.69 175.75L621.01 177.58L621.33 179.4L621.64 181.23L621.94 183.05L622.24 184.88L622.53 186.7" fill="none" stroke="#2563b8" stroke-width="1.7" stroke-linejoin="round" stroke-linecap="round"/>
<path d="M578.6 186.7L578.6 185.3L578.61 183.89L578.62 182.47L578.63 181.04L578.64 179.6L578.66 178.15L578.69 176.68L578.71 175.21L578.74 173.72L578.78 172.23L578.81 170.72L578.85 169.2L578.9 167.67L578.95 166.13L579 164.58L579.05 163.02L579.11 161.44L579.17 159.86L579.24 158.26L579.3 156.66L579.38 155.04L579.45 153.41L579.53 151.77L579.61 150.12L579.7 148.46L579.79 146.79L579.88 145.11L579.98 143.42L580.08 141.71L580.19 140L580.29 138.27L580.4 136.53L580.52 134.78L580.64 133.02L580.76 131.25L580.88 129.47L581.01 127.68L581.14 125.88L581.28 124.06L581.42 122.24L581.56 120.4L581.71 118.56L581.86 116.7L582.01 114.83L582.17 112.95L582.33 111.06L582.49 109.16L582.66 107.25L582.83 105.32L583 103.39L583.18 101.44L583.36 99.49L583.55 97.52L583.74 95.54L583.93 93.55L584.12 91.55L584.32 89.54L584.53 87.52L584.73 85.49L584.94 83.44L585.15 81.39L585.37 79.32L585.59 77.25L585.81 75.16L586.04 73.06L586.27 70.95L586.51 68.83L586.74 66.7L586.99 64.56L587.23 62.4L587.48 60.24L587.73 58.06L587.99 55.88L588.25 53.68L588.51 51.47L588.77 49.26L589.04 47.03L589.32 44.78L589.59 42.53L589.59 42.53L590.41 75.69L590.49 77.57L590.58 79.45L590.68 81.34L590.79 83.22L590.9 85.1L591.02 86.98L591.15 88.86L591.28 90.74L591.42 92.63L591.56 94.51L591.71 96.39L591.87 98.27L592.02 100.15L592.19 102.03L592.36 103.91L592.53 105.8L592.71 107.68L592.89 109.56L593.07 111.44L593.26 113.32L593.46 115.2L593.65 117.08L593.85 118.97L594.05 120.85L594.25 122.73L594.45 124.61L594.66 126.49L594.87 128.37L595.08 130.26L595.29 132.14L595.5 134.02L595.71 135.9L595.92 137.78L596.14 139.66L596.35 141.54L596.56 143.43L596.77 145.31L596.99 147.19L597.2 149.07L597.41 150.95L597.62 152.83L597.82 154.71L598.03 156.6L598.23 158.48L598.43 160.36L598.63 162.24L598.83 164.12L599.02 166L599.21 167.89L599.4 169.77L599.58 171.65L599.76 173.53L599.93 175.41L600.1 177.29L600.27 179.17L600.43 181.06L600.59 182.94L600.74 184.82L600.89 186.7" fill="none" stroke="#2aa263" stroke-width="1.7" stroke-linejoin="round" stroke-linecap="round"/>
<path d="M578.6 186.7L581.18 114.62L583.88 42.53L583.88 42.53L584.61 78.57L584.64 80.41L584.67 82.24L584.71 84.07L584.75 85.91L584.79 87.74L584.84 89.57L584.9 91.4L584.96 93.24L585.02 95.07L585.09 96.9L585.16 98.73L585.23 100.57L585.31 102.4L585.39 104.23L585.48 106.06L585.56 107.9L585.65 109.73L585.74 111.56L585.84 113.39L585.93 115.23L586.03 117.06L586.13 118.89L586.23 120.73L586.33 122.56L586.44 124.39L586.54 126.22L586.65 128.06L586.76 129.89L586.87 131.72L586.98 133.55L587.08 135.39L587.19 137.22L587.3 139.05L587.41 140.88L587.52 142.72L587.63 144.55L587.74 146.38L587.84 148.21L587.95 150.05L588.05 151.88L588.15 153.71L588.26 155.55L588.36 157.38L588.45 159.21L588.55 161.04L588.64 162.88L588.74 164.71L588.82 166.54L588.91 168.37L589 170.21L589.08 172.04L589.15 173.87L589.23 175.7L589.3 177.54L589.36 179.37L589.43 181.2L589.49 183.03L589.54 184.87L589.59 186.7" fill="none" stroke="#8f6bcb" stroke-width="1.7" stroke-linejoin="round" stroke-linecap="round"/>
<path d="M578.6 186.7L579.89 114.62L581.52 42.53L581.52 42.53L582.25 78.57L582.27 80.41L582.3 82.24L582.33 84.07L582.36 85.91L582.4 87.74L582.44 89.57L582.48 91.4L582.53 93.24L582.58 95.07L582.64 96.9L582.69 98.73L582.75 100.57L582.82 102.4L582.88 104.23L582.95 106.06L583.02 107.9L583.1 109.73L583.17 111.56L583.25 113.39L583.33 115.23L583.41 117.06L583.5 118.89L583.58 120.73L583.66 122.56L583.75 124.39L583.84 126.22L583.93 128.06L584.02 129.89L584.11 131.72L584.2 133.55L584.29 135.39L584.38 137.22L584.47 139.05L584.56 140.88L584.65 142.72L584.74 144.55L584.83 146.38L584.92 148.21L585.01 150.05L585.1 151.88L585.19 153.71L585.27 155.55L585.36 157.38L585.44 159.21L585.52 161.04L585.6 162.88L585.68 164.71L585.75 166.54L585.83 168.37L585.9 170.21L585.97 172.04L586.03 173.87L586.1 175.7L586.16 177.54L586.22 179.37L586.27 181.2L586.32 183.03L586.37 184.87L586.42 186.7" fill="none" stroke="#c98e3a" stroke-width="1.7" stroke-linejoin="round" stroke-linecap="round"/>
<path d="M40.7 396.4 v-3 M94.65 396.4 v-3 M148.6 396.4 v-3 M202.55 396.4 v-3 M256.5 396.4 v-3 M67.68 396.4 v-2 M121.62 396.4 v-2 M175.57 396.4 v-2 M229.52 396.4 v-2 M40.7 396.4 h3 M40.7 367.55 h3 M40.7 338.7 h3 M40.7 309.85 h3 M40.7 281 h3 M40.7 252.15 h3 M40.7 223.3 h3 M40.7 381.97 h2 M40.7 353.12 h2 M40.7 324.27 h2 M40.7 295.43 h2 M40.7 266.57 h2 M40.7 237.72 h2" stroke="#3c3c3c" stroke-width="1.1" fill="none"/>
<rect x="40.7" y="223.3" width="215.8" height="173.1" fill="none" stroke="#3c3c3c" stroke-width="1.6"/>
<text x="0" y="0" font-size="10" text-anchor="middle" transform="translate(40.7 408) scale(0.93 1)">0</text>
<text x="0" y="0" font-size="10" text-anchor="middle" transform="translate(94.65 408) scale(0.93 1)">100</text>
<text x="0" y="0" font-size="10" text-anchor="middle" transform="translate(148.6 408) scale(0.93 1)">200</text>
<text x="0" y="0" font-size="10" text-anchor="middle" transform="translate(202.55 408) scale(0.93 1)">300</text>
<text x="0" y="0" font-size="10" text-anchor="middle" transform="translate(256.5 408) scale(0.93 1)">400</text>
<text x="0" y="0" font-size="10" text-anchor="end" transform="translate(37.4 399.8)">0.0</text>
<text x="0" y="0" font-size="10" text-anchor="end" transform="translate(37.4 370.95)">0.2</text>
<text x="0" y="0" font-size="10" text-anchor="end" transform="translate(37.4 342.1)">0.4</text>
<text x="0" y="0" font-size="10" text-anchor="end" transform="translate(37.4 313.25)">0.6</text>
<text x="0" y="0" font-size="10" text-anchor="end" transform="translate(37.4 284.4)">0.8</text>
<text x="0" y="0" font-size="10" text-anchor="end" transform="translate(37.4 255.55)">1.0</text>
<text x="0" y="0" font-size="10" text-anchor="end" transform="translate(37.4 226.7)">1.2</text>
<text x="148.6" y="420.4" font-size="9.6" text-anchor="middle">Time / s</text>
<text x="0" y="0" font-size="9.6" text-anchor="middle" textLength="100" lengthAdjust="spacingAndGlyphs" transform="translate(17.3 309.85) rotate(-90)">Potential / V (vs Ag/AgCl)</text>
<text x="50.2" y="238.5" font-size="12" text-anchor="start">(d)</text>
<path d="M196.1 235.7H217.9" stroke="#454545" stroke-width="2"/>
<text x="0" y="0" font-size="10" transform="translate(220.6 239.8) scale(0.86 1)">1 <tspan dx="0.9">A</tspan><tspan dx="1.0">&#8226;</tspan><tspan dx="1.0">g</tspan><tspan font-size="6.2" dy="-3.9" dx="0.3">&#8722;1</tspan></text>
<path d="M196.1 248.16H217.9" stroke="#e8383d" stroke-width="2"/>
<text x="0" y="0" font-size="10" transform="translate(220.6 252.26) scale(0.86 1)">2 <tspan dx="0.9">A</tspan><tspan dx="1.0">&#8226;</tspan><tspan dx="1.0">g</tspan><tspan font-size="6.2" dy="-3.9" dx="0.3">&#8722;1</tspan></text>
<path d="M196.1 260.62H217.9" stroke="#2563b8" stroke-width="2"/>
<text x="0" y="0" font-size="10" transform="translate(220.6 264.72) scale(0.86 1)">3 <tspan dx="0.9">A</tspan><tspan dx="1.0">&#8226;</tspan><tspan dx="1.0">g</tspan><tspan font-size="6.2" dy="-3.9" dx="0.3">&#8722;1</tspan></text>
<path d="M196.1 273.08H217.9" stroke="#2aa263" stroke-width="2"/>
<text x="0" y="0" font-size="10" transform="translate(220.6 277.18) scale(0.86 1)">5 <tspan dx="0.9">A</tspan><tspan dx="1.0">&#8226;</tspan><tspan dx="1.0">g</tspan><tspan font-size="6.2" dy="-3.9" dx="0.3">&#8722;1</tspan></text>
<path d="M196.1 285.54H217.9" stroke="#8f6bcb" stroke-width="2"/>
<text x="0" y="0" font-size="10" transform="translate(220.6 289.64) scale(0.86 1)">8 <tspan dx="0.9">A</tspan><tspan dx="1.0">&#8226;</tspan><tspan dx="1.0">g</tspan><tspan font-size="6.2" dy="-3.9" dx="0.3">&#8722;1</tspan></text>
<path d="M196.1 298H217.9" stroke="#c98e3a" stroke-width="2"/>
<text x="0" y="0" font-size="10" transform="translate(220.6 302.1) scale(0.86 1)">10 <tspan dx="0.9">A</tspan><tspan dx="1.0">&#8226;</tspan><tspan dx="1.0">g</tspan><tspan font-size="6.2" dy="-3.9" dx="0.3">&#8722;1</tspan></text>
<path d="M40.7 396.4L40.9 394.57L41.16 392.75L41.49 390.92L41.88 389.1L42.33 387.27L42.83 385.44L43.4 383.62L44.01 381.79L44.68 379.97L45.41 378.14L46.18 376.31L47 374.49L47.86 372.66L48.77 370.84L49.73 369.01L50.72 367.18L51.75 365.36L52.83 363.53L53.93 361.71L55.07 359.88L56.25 358.06L57.46 356.23L58.69 354.4L59.95 352.58L61.24 350.75L62.56 348.93L63.89 347.1L65.25 345.27L66.63 343.45L68.02 341.62L69.43 339.8L70.86 337.97L72.29 336.14L73.74 334.32L75.2 332.49L76.66 330.67L78.13 328.84L79.61 327.01L81.09 325.19L82.57 323.36L84.04 321.54L85.52 319.71L87 317.88L88.48 316.06L89.96 314.23L91.45 312.41L92.94 310.58L94.44 308.75L95.95 306.93L97.46 305.1L98.99 303.28L100.52 301.45L102.07 299.62L103.63 297.8L105.21 295.97L106.8 294.15L108.41 292.32L110.03 290.49L111.67 288.67L113.34 286.84L115.02 285.02L116.73 283.19L118.46 281.37L120.21 279.54L121.99 277.71L123.8 275.89L125.63 274.06L127.5 272.24L129.39 270.41L131.32 268.58L133.28 266.76L135.3 264.93L137.36 263.11L139.48 261.28L141.67 259.45L143.93 257.63L146.26 255.8L148.68 253.98L151.18 252.15L151.19 252.15L151.51 258.64L152.27 260.39L153.04 262.13L153.84 263.87L154.65 265.62L155.48 267.36L156.33 269.1L157.2 270.85L158.08 272.59L158.99 274.34L159.9 276.08L160.84 277.82L161.79 279.57L162.76 281.31L163.74 283.05L164.74 284.8L165.76 286.54L166.79 288.29L167.83 290.03L168.89 291.77L169.97 293.52L171.05 295.26L172.16 297L173.27 298.75L174.4 300.49L175.55 302.24L176.7 303.98L177.87 305.72L179.06 307.47L180.25 309.21L181.46 310.95L182.68 312.7L183.91 314.44L185.15 316.19L186.4 317.93L187.67 319.67L188.94 321.42L190.23 323.16L191.52 324.9L192.83 326.65L194.14 328.39L195.47 330.14L196.8 331.88L198.15 333.62L199.5 335.37L200.86 337.11L202.23 338.86L203.61 340.6L204.99 342.34L206.39 344.09L207.79 345.83L209.19 347.57L210.61 349.32L212.03 351.06L213.46 352.81L214.89 354.55L216.33 356.29L217.78 358.04L219.23 359.78L220.69 361.52L222.15 363.27L223.61 365.01L225.09 366.76L226.56 368.5L228.04 370.24L229.52 371.99L231.01 373.73L232.5 375.47L234 377.22L235.49 378.96L236.99 380.71L238.49 382.45L240 384.19L241.5 385.94L243.01 387.68L244.52 389.42L246.03 391.17L247.54 392.91L249.05 394.66L250.57 396.4" fill="none" stroke="#454545" stroke-width="1.7" stroke-linejoin="round" stroke-linecap="round"/>
<path d="M40.7 396.4L40.71 395.13L40.73 393.92L40.77 392.78L40.82 391.68L40.89 390.63L40.97 389.62L41.07 388.65L41.19 387.72L41.32 386.81L41.46 385.92L41.62 385.06L41.8 384.21L41.99 383.37L42.19 382.53L42.41 381.7L42.65 380.87L42.9 380.04L43.17 379.2L43.45 378.35L43.75 377.48L44.06 376.59L44.39 375.69L44.73 374.76L45.09 373.81L45.46 372.83L45.85 371.81L46.25 370.77L46.67 369.68L47.1 368.56L47.55 367.4L48.02 366.2L48.5 364.95L48.99 363.66L49.5 362.32L50.03 360.94L50.57 359.5L51.13 358.01L51.7 356.47L52.28 354.88L52.89 353.24L53.5 351.54L54.13 349.78L54.78 347.97L55.44 346.11L56.12 344.19L56.81 342.21L57.52 340.18L58.25 338.09L58.99 335.94L59.74 333.74L60.51 331.49L61.29 329.18L62.09 326.82L62.91 324.41L63.74 321.94L64.58 319.43L65.44 316.86L66.32 314.25L67.21 311.6L68.12 308.89L69.04 306.15L69.97 303.36L70.93 300.54L71.89 297.68L72.88 294.78L73.87 291.86L74.89 288.9L75.92 285.91L76.96 282.91L78.02 279.87L79.09 276.82L80.18 273.76L81.28 270.68L82.4 267.6L83.54 264.5L84.69 261.41L85.85 258.32L87.03 255.23L88.23 252.15L88.23 252.15L88.44 253.98L88.66 255.8L88.9 257.63L89.16 259.45L89.43 261.28L89.73 263.11L90.04 264.93L90.36 266.76L90.7 268.58L91.06 270.41L91.43 272.24L91.82 274.06L92.22 275.89L92.63 277.71L93.06 279.54L93.5 281.37L93.96 283.19L94.43 285.02L94.91 286.84L95.4 288.67L95.91 290.49L96.42 292.32L96.95 294.15L97.49 295.97L98.04 297.8L98.6 299.62L99.16 301.45L99.74 303.28L100.33 305.1L100.93 306.93L101.53 308.75L102.14 310.58L102.76 312.41L103.39 314.23L104.03 316.06L104.67 317.88L105.32 319.71L105.97 321.54L106.64 323.36L107.3 325.19L107.97 327.01L108.65 328.84L109.33 330.67L110.01 332.49L110.7 334.32L111.4 336.14L112.09 337.97L112.79 339.8L113.49 341.62L114.19 343.45L114.9 345.27L115.6 347.1L116.31 348.93L117.02 350.75L117.73 352.58L118.44 354.4L119.15 356.23L119.86 358.06L120.56 359.88L121.27 361.71L121.98 363.53L122.68 365.36L123.38 367.18L124.08 369.01L124.77 370.84L125.47 372.66L126.16 374.49L126.84 376.31L127.52 378.14L128.2 379.97L128.87 381.79L129.54 383.62L130.2 385.44L130.85 387.27L131.5 389.1L132.15 390.92L132.78 392.75L133.41 394.57L134.03 396.4" fill="none" stroke="#e8383d" stroke-width="1.7" stroke-linejoin="round" stroke-linecap="round"/>
<path d="M40.7 396.4L40.7 395.38L40.72 394.37L40.74 393.35L40.78 392.34L40.82 391.33L40.87 390.31L40.94 389.3L41.01 388.28L41.09 387.25L41.18 386.22L41.28 385.19L41.39 384.15L41.51 383.1L41.64 382.04L41.78 380.97L41.93 379.9L42.09 378.81L42.25 377.71L42.43 376.59L42.62 375.47L42.82 374.33L43.02 373.17L43.24 371.99L43.46 370.8L43.7 369.59L43.94 368.36L44.2 367.12L44.46 365.85L44.73 364.55L45.02 363.24L45.31 361.9L45.61 360.54L45.92 359.15L46.25 357.73L46.58 356.29L46.92 354.82L47.27 353.32L47.63 351.79L48 350.23L48.38 348.64L48.76 347.01L49.16 345.35L49.57 343.66L49.99 341.93L50.42 340.17L50.85 338.36L51.3 336.52L51.75 334.64L52.22 332.72L52.69 330.76L53.18 328.76L53.67 326.72L54.18 324.63L54.69 322.5L55.21 320.32L55.75 318.1L56.29 315.83L56.84 313.51L57.4 311.14L57.97 308.72L58.55 306.26L59.14 303.74L59.74 301.17L60.35 298.54L60.97 295.86L61.6 293.13L62.24 290.34L62.88 287.49L63.54 284.58L64.21 281.62L64.89 278.59L65.57 275.51L66.27 272.36L66.97 269.16L67.69 265.89L68.41 262.55L69.15 259.15L69.89 255.68L70.64 252.15L70.64 252.15L74.69 286.77L74.9 288.63L75.13 290.49L75.38 292.34L75.64 294.2L75.92 296.06L76.22 297.92L76.53 299.78L76.85 301.64L77.19 303.49L77.54 305.35L77.91 307.21L78.28 309.07L78.67 310.93L79.08 312.78L79.49 314.64L79.91 316.5L80.34 318.36L80.78 320.22L81.24 322.07L81.69 323.93L82.16 325.79L82.64 327.65L83.12 329.51L83.61 331.37L84.1 333.22L84.6 335.08L85.1 336.94L85.61 338.8L86.13 340.66L86.64 342.51L87.16 344.37L87.68 346.23L88.2 348.09L88.73 349.95L89.25 351.8L89.78 353.66L90.3 355.52L90.83 357.38L91.35 359.24L91.88 361.1L92.4 362.95L92.91 364.81L93.43 366.67L93.94 368.53L94.44 370.39L94.94 372.24L95.44 374.1L95.93 375.96L96.41 377.82L96.89 379.68L97.36 381.53L97.82 383.39L98.28 385.25L98.72 387.11L99.16 388.97L99.59 390.83L100 392.68L100.41 394.54L100.8 396.4" fill="none" stroke="#2563b8" stroke-width="1.7" stroke-linejoin="round" stroke-linecap="round"/>
<path d="M40.7 396.4L40.7 394.86L40.71 393.34L40.72 391.86L40.74 390.39L40.77 388.95L40.8 387.53L40.83 386.14L40.87 384.76L40.92 383.4L40.97 382.05L41.02 380.72L41.09 379.41L41.15 378.11L41.23 376.82L41.3 375.53L41.39 374.26L41.47 372.99L41.57 371.73L41.67 370.48L41.77 369.23L41.88 367.97L42 366.72L42.12 365.47L42.24 364.22L42.37 362.96L42.51 361.7L42.65 360.43L42.8 359.15L42.95 357.87L43.11 356.57L43.28 355.26L43.44 353.94L43.62 352.6L43.8 351.25L43.98 349.88L44.17 348.5L44.37 347.09L44.57 345.66L44.78 344.21L44.99 342.73L45.2 341.23L45.43 339.71L45.65 338.15L45.89 336.57L46.13 334.95L46.37 333.31L46.62 331.63L46.87 329.91L47.13 328.16L47.4 326.37L47.67 324.54L47.95 322.68L48.23 320.77L48.51 318.81L48.81 316.82L49.1 314.78L49.41 312.69L49.71 310.55L50.03 308.37L50.35 306.13L50.67 303.84L51 301.5L51.34 299.1L51.68 296.64L52.02 294.13L52.37 291.56L52.73 288.93L53.09 286.24L53.46 283.48L53.83 280.66L54.21 277.77L54.59 274.82L54.98 271.8L55.37 268.7L55.77 265.54L56.18 262.31L56.59 259L57 255.61L57.42 252.15L57.42 252.15L59.04 286.77L59.19 288.63L59.35 290.49L59.52 292.34L59.69 294.2L59.86 296.06L60.05 297.92L60.24 299.78L60.43 301.64L60.63 303.49L60.84 305.35L61.05 307.21L61.27 309.07L61.49 310.93L61.72 312.78L61.95 314.64L62.19 316.5L62.43 318.36L62.67 320.22L62.92 322.07L63.18 323.93L63.44 325.79L63.7 327.65L63.96 329.51L64.23 331.37L64.5 333.22L64.78 335.08L65.06 336.94L65.34 338.8L65.62 340.66L65.91 342.51L66.2 344.37L66.49 346.23L66.78 348.09L67.07 349.95L67.37 351.8L67.67 353.66L67.97 355.52L68.27 357.38L68.57 359.24L68.87 361.1L69.17 362.95L69.48 364.81L69.78 366.67L70.08 368.53L70.39 370.39L70.69 372.24L71 374.1L71.3 375.96L71.61 377.82L71.91 379.68L72.21 381.53L72.51 383.39L72.81 385.25L73.11 387.11L73.41 388.97L73.7 390.83L74 392.68L74.29 394.54L74.58 396.4" fill="none" stroke="#2aa263" stroke-width="1.7" stroke-linejoin="round" stroke-linecap="round"/>
<path d="M40.7 396.4L40.7 395.99L40.71 395.55L40.71 395.07L40.72 394.56L40.74 394L40.75 393.42L40.77 392.79L40.79 392.13L40.82 391.43L40.85 390.7L40.88 389.93L40.91 389.12L40.95 388.28L40.99 387.4L41.03 386.48L41.08 385.53L41.12 384.54L41.18 383.52L41.23 382.46L41.29 381.36L41.35 380.22L41.41 379.05L41.48 377.85L41.55 376.6L41.62 375.32L41.69 374.01L41.77 372.65L41.85 371.27L41.94 369.84L42.02 368.38L42.11 366.88L42.2 365.34L42.3 363.77L42.4 362.17L42.5 360.52L42.6 358.84L42.71 357.13L42.82 355.37L42.94 353.58L43.05 351.76L43.17 349.89L43.29 348L43.42 346.06L43.55 344.09L43.68 342.08L43.81 340.04L43.95 337.96L44.09 335.84L44.23 333.68L44.37 331.49L44.52 329.27L44.67 327.01L44.83 324.71L44.99 322.37L45.15 320L45.31 317.59L45.47 315.15L45.64 312.66L45.82 310.15L45.99 307.59L46.17 305L46.35 302.38L46.53 299.71L46.72 297.01L46.91 294.28L47.1 291.5L47.3 288.7L47.5 285.85L47.7 282.97L47.9 280.05L48.11 277.1L48.32 274.1L48.53 271.08L48.75 268.01L48.97 264.91L49.19 261.78L49.41 258.6L49.64 255.4L49.87 252.15L49.87 252.15L50.57 286.77L50.65 288.63L50.72 290.49L50.81 292.34L50.9 294.2L50.99 296.06L51.09 297.92L51.2 299.78L51.31 301.64L51.42 303.49L51.54 305.35L51.66 307.21L51.79 309.07L51.92 310.93L52.05 312.78L52.19 314.64L52.34 316.5L52.48 318.36L52.63 320.22L52.78 322.07L52.94 323.93L53.1 325.79L53.26 327.65L53.42 329.51L53.59 331.37L53.76 333.22L53.93 335.08L54.11 336.94L54.28 338.8L54.46 340.66L54.64 342.51L54.82 344.37L55 346.23L55.19 348.09L55.37 349.95L55.56 351.8L55.75 353.66L55.93 355.52L56.12 357.38L56.31 359.24L56.5 361.1L56.69 362.95L56.88 364.81L57.07 366.67L57.26 368.53L57.45 370.39L57.64 372.24L57.83 374.1L58.02 375.96L58.21 377.82L58.4 379.68L58.58 381.53L58.77 383.39L58.95 385.25L59.13 387.11L59.31 388.97L59.49 390.83L59.67 392.68L59.84 394.54L60.01 396.4" fill="none" stroke="#8f6bcb" stroke-width="1.7" stroke-linejoin="round" stroke-linecap="round"/>
<path d="M40.7 396.4L40.7 396.96L40.7 397.46L40.71 397.9L40.72 398.27L40.73 398.59L40.74 398.84L40.76 399.04L40.77 399.17L40.79 399.24L40.81 399.25L40.84 399.2L40.86 399.09L40.89 398.91L40.92 398.68L40.95 398.38L40.99 398.02L41.02 397.61L41.06 397.13L41.11 396.58L41.15 395.98L41.2 395.32L41.24 394.59L41.29 393.81L41.35 392.96L41.4 392.05L41.46 391.08L41.52 390.05L41.58 388.96L41.65 387.81L41.71 386.59L41.78 385.32L41.85 383.98L41.92 382.59L42 381.13L42.08 379.61L42.16 378.03L42.24 376.38L42.32 374.68L42.41 372.91L42.5 371.09L42.59 369.2L42.68 367.25L42.78 365.24L42.88 363.17L42.98 361.04L43.08 358.85L43.18 356.59L43.29 354.28L43.4 351.9L43.51 349.46L43.62 346.96L43.74 344.4L43.86 341.78L43.98 339.1L44.1 336.36L44.22 333.55L44.35 330.69L44.48 327.76L44.61 324.77L44.75 321.72L44.88 318.61L45.02 315.44L45.16 312.2L45.3 308.91L45.45 305.55L45.6 302.14L45.74 298.66L45.9 295.12L46.05 291.52L46.21 287.86L46.36 284.14L46.53 280.35L46.69 276.51L46.85 272.6L47.02 268.63L47.19 264.6L47.36 260.51L47.54 256.36L47.71 252.15L47.71 252.15L48.47 286.77L48.47 288.63L48.48 290.49L48.5 292.34L48.53 294.2L48.56 296.06L48.61 297.92L48.66 299.78L48.71 301.64L48.77 303.49L48.84 305.35L48.91 307.21L48.99 309.07L49.08 310.93L49.17 312.78L49.27 314.64L49.37 316.5L49.47 318.36L49.58 320.22L49.7 322.07L49.82 323.93L49.94 325.79L50.07 327.65L50.2 329.51L50.33 331.37L50.47 333.22L50.6 335.08L50.74 336.94L50.89 338.8L51.03 340.66L51.18 342.51L51.33 344.37L51.48 346.23L51.63 348.09L51.78 349.95L51.94 351.8L52.09 353.66L52.25 355.52L52.4 357.38L52.55 359.24L52.71 361.1L52.86 362.95L53.01 364.81L53.16 366.67L53.31 368.53L53.46 370.39L53.61 372.24L53.75 374.1L53.9 375.96L54.04 377.82L54.18 379.68L54.31 381.53L54.44 383.39L54.57 385.25L54.7 387.11L54.82 388.97L54.94 390.83L55.05 392.68L55.16 394.54L55.27 396.4" fill="none" stroke="#c98e3a" stroke-width="1.7" stroke-linejoin="round" stroke-linecap="round"/>
<path d="M307.9 396.3 v-3 M338.56 396.3 v-3 M369.21 396.3 v-3 M399.87 396.3 v-3 M430.53 396.3 v-3 M461.19 396.3 v-3 M491.84 396.3 v-3 M522.5 396.3 v-3 M323.23 396.3 v-2 M353.89 396.3 v-2 M384.54 396.3 v-2 M415.2 396.3 v-2 M445.86 396.3 v-2 M476.51 396.3 v-2 M507.17 396.3 v-2 M307.9 396.3 h3 M307.9 367.85 h3 M307.9 339.4 h3 M307.9 310.95 h3 M307.9 282.5 h3 M307.9 254.05 h3 M307.9 225.6 h3 M307.9 382.07 h2 M307.9 353.62 h2 M307.9 325.18 h2 M307.9 296.73 h2 M307.9 268.27 h2 M307.9 239.82 h2" stroke="#3c3c3c" stroke-width="1.1" fill="none"/>
<rect x="307.9" y="225.6" width="214.6" height="170.7" fill="none" stroke="#3c3c3c" stroke-width="1.6"/>
<text x="0" y="0" font-size="10" text-anchor="middle" transform="translate(307.9 407.9) scale(0.93 1)">0</text>
<text x="0" y="0" font-size="10" text-anchor="middle" transform="translate(338.56 407.9) scale(0.93 1)">50</text>
<text x="0" y="0" font-size="10" text-anchor="middle" transform="translate(369.21 407.9) scale(0.93 1)">100</text>
<text x="0" y="0" font-size="10" text-anchor="middle" transform="translate(399.87 407.9) scale(0.93 1)">150</text>
<text x="0" y="0" font-size="10" text-anchor="middle" transform="translate(430.53 407.9) scale(0.93 1)">200</text>
<text x="0" y="0" font-size="10" text-anchor="middle" transform="translate(461.19 407.9) scale(0.93 1)">250</text>
<text x="0" y="0" font-size="10" text-anchor="middle" transform="translate(491.84 407.9) scale(0.93 1)">300</text>
<text x="0" y="0" font-size="10" text-anchor="middle" transform="translate(522.5 407.9) scale(0.93 1)">350</text>
<text x="0" y="0" font-size="10" text-anchor="end" transform="translate(304.6 399.7)">0.0</text>
<text x="0" y="0" font-size="10" text-anchor="end" transform="translate(304.6 371.25)">0.2</text>
<text x="0" y="0" font-size="10" text-anchor="end" transform="translate(304.6 342.8)">0.4</text>
<text x="0" y="0" font-size="10" text-anchor="end" transform="translate(304.6 314.35)">0.6</text>
<text x="0" y="0" font-size="10" text-anchor="end" transform="translate(304.6 285.9)">0.8</text>
<text x="0" y="0" font-size="10" text-anchor="end" transform="translate(304.6 257.45)">1.0</text>
<text x="0" y="0" font-size="10" text-anchor="end" transform="translate(304.6 229)">1.2</text>
<text x="415.2" y="420.3" font-size="9.6" text-anchor="middle">Time / s</text>
<text x="0" y="0" font-size="9.6" text-anchor="middle" textLength="100" lengthAdjust="spacingAndGlyphs" transform="translate(284.4 310.95) rotate(-90)">Potential / V (vs Ag/AgCl)</text>
<text x="321" y="238.3" font-size="12" text-anchor="start">(e)</text>
<path d="M462.2 235.1H483.7" stroke="#454545" stroke-width="2"/>
<text x="0" y="0" font-size="10" transform="translate(486.4 239.2) scale(0.86 1)">1 <tspan dx="0.9">A</tspan><tspan dx="1.0">&#8226;</tspan><tspan dx="1.0">g</tspan><tspan font-size="6.2" dy="-3.9" dx="0.3">&#8722;1</tspan></text>
<path d="M462.2 247.36H483.7" stroke="#e8383d" stroke-width="2"/>
<text x="0" y="0" font-size="10" transform="translate(486.4 251.46) scale(0.86 1)">2 <tspan dx="0.9">A</tspan><tspan dx="1.0">&#8226;</tspan><tspan dx="1.0">g</tspan><tspan font-size="6.2" dy="-3.9" dx="0.3">&#8722;1</tspan></text>
<path d="M462.2 259.62H483.7" stroke="#2563b8" stroke-width="2"/>
<text x="0" y="0" font-size="10" transform="translate(486.4 263.72) scale(0.86 1)">3 <tspan dx="0.9">A</tspan><tspan dx="1.0">&#8226;</tspan><tspan dx="1.0">g</tspan><tspan font-size="6.2" dy="-3.9" dx="0.3">&#8722;1</tspan></text>
<path d="M462.2 271.88H483.7" stroke="#2aa263" stroke-width="2"/>
<text x="0" y="0" font-size="10" transform="translate(486.4 275.98) scale(0.86 1)">5 <tspan dx="0.9">A</tspan><tspan dx="1.0">&#8226;</tspan><tspan dx="1.0">g</tspan><tspan font-size="6.2" dy="-3.9" dx="0.3">&#8722;1</tspan></text>
<path d="M462.2 284.14H483.7" stroke="#8f6bcb" stroke-width="2"/>
<text x="0" y="0" font-size="10" transform="translate(486.4 288.24) scale(0.86 1)">8 <tspan dx="0.9">A</tspan><tspan dx="1.0">&#8226;</tspan><tspan dx="1.0">g</tspan><tspan font-size="6.2" dy="-3.9" dx="0.3">&#8722;1</tspan></text>
<path d="M462.2 296.4H483.7" stroke="#c98e3a" stroke-width="2"/>
<text x="0" y="0" font-size="10" transform="translate(486.4 300.5) scale(0.86 1)">10 <tspan dx="0.9">A</tspan><tspan dx="1.0">&#8226;</tspan><tspan dx="1.0">g</tspan><tspan font-size="6.2" dy="-3.9" dx="0.3">&#8722;1</tspan></text>
<path d="M307.9 396.3L308.2 394.5L308.56 392.7L308.97 390.9L309.44 389.1L309.95 387.3L310.52 385.5L311.14 383.7L311.81 381.89L312.52 380.09L313.27 378.29L314.06 376.49L314.9 374.69L315.77 372.89L316.69 371.09L317.63 369.29L318.61 367.49L319.62 365.69L320.67 363.89L321.74 362.09L322.84 360.29L323.96 358.49L325.1 356.69L326.27 354.89L327.46 353.08L328.67 351.28L329.89 349.48L331.13 347.68L332.38 345.88L333.65 344.08L334.92 342.28L336.2 340.48L337.5 338.68L338.79 336.88L340.1 335.08L341.42 333.28L342.74 331.48L344.07 329.68L345.42 327.88L346.78 326.08L348.14 324.27L349.52 322.47L350.92 320.67L352.32 318.87L353.74 317.07L355.17 315.27L356.62 313.47L358.09 311.67L359.57 309.87L361.06 308.07L362.57 306.27L364.1 304.47L365.65 302.67L367.22 300.87L368.8 299.07L370.41 297.27L372.04 295.46L373.68 293.66L375.35 291.86L377.04 290.06L378.75 288.26L380.48 286.46L382.24 284.66L384.02 282.86L385.83 281.06L387.66 279.26L389.52 277.46L391.4 275.66L393.31 273.86L395.24 272.06L397.21 270.26L399.2 268.46L401.25 266.65L403.37 264.85L405.61 263.05L407.98 261.25L410.51 259.45L413.23 257.65L416.18 255.85L419.37 254.05L419.36 254.05L419.81 255.85L420.3 257.65L420.84 259.45L421.43 261.25L422.06 263.05L422.74 264.85L423.45 266.65L424.21 268.46L425.01 270.26L425.85 272.06L426.72 273.86L427.63 275.66L428.57 277.46L429.54 279.26L430.54 281.06L431.57 282.86L432.62 284.66L433.7 286.46L434.8 288.26L435.93 290.06L437.07 291.86L438.23 293.66L439.41 295.46L440.6 297.27L441.81 299.07L443.03 300.87L444.26 302.67L445.5 304.47L446.75 306.27L448.01 308.07L449.28 309.87L450.56 311.67L451.85 313.47L453.15 315.27L454.46 317.07L455.78 318.87L457.1 320.67L458.44 322.47L459.79 324.27L461.14 326.08L462.51 327.88L463.88 329.68L465.26 331.48L466.66 333.28L468.06 335.08L469.47 336.88L470.88 338.68L472.31 340.48L473.75 342.28L475.19 344.08L476.64 345.88L478.1 347.68L479.57 349.48L481.05 351.28L482.53 353.08L484.02 354.89L485.53 356.69L487.03 358.49L488.55 360.29L490.08 362.09L491.61 363.89L493.15 365.69L494.69 367.49L496.25 369.29L497.81 371.09L499.38 372.89L500.96 374.69L502.54 376.49L504.13 378.29L505.73 380.09L507.33 381.89L508.95 383.7L510.56 385.5L512.19 387.3L513.82 389.1L515.46 390.9L517.11 392.7L518.76 394.5L520.41 396.3" fill="none" stroke="#454545" stroke-width="1.7" stroke-linejoin="round" stroke-linecap="round"/>
<path d="M307.9 396.3L307.91 394.83L307.93 393.38L307.97 391.95L308.02 390.54L308.09 389.15L308.17 387.77L308.27 386.41L308.38 385.05L308.51 383.71L308.66 382.37L308.82 381.04L308.99 379.71L309.18 378.38L309.38 377.05L309.6 375.72L309.84 374.38L310.09 373.04L310.35 371.69L310.63 370.33L310.93 368.96L311.24 367.58L311.57 366.19L311.91 364.78L312.26 363.36L312.63 361.92L313.02 360.46L313.42 358.99L313.84 357.5L314.27 355.99L314.72 354.45L315.18 352.9L315.66 351.32L316.15 349.72L316.66 348.1L317.18 346.45L317.72 344.78L318.27 343.08L318.84 341.36L319.42 339.62L320.02 337.85L320.63 336.05L321.26 334.23L321.91 332.38L322.56 330.51L323.24 328.61L323.93 326.69L324.63 324.74L325.35 322.77L326.09 320.77L326.84 318.75L327.6 316.71L328.38 314.65L329.18 312.56L329.99 310.45L330.81 308.32L331.65 306.17L332.51 304L333.38 301.82L334.27 299.62L335.17 297.4L336.09 295.16L337.02 292.92L337.96 290.66L338.93 288.39L339.9 286.11L340.9 283.82L341.9 281.52L342.93 279.22L343.96 276.91L345.02 274.61L346.08 272.3L347.17 269.99L348.27 267.69L349.38 265.39L350.51 263.1L351.65 260.82L352.81 258.55L353.98 256.29L355.17 254.05L355.17 254.05L355.31 255.85L355.47 257.65L355.64 259.45L355.84 261.25L356.05 263.05L356.28 264.85L356.53 266.65L356.79 268.46L357.07 270.26L357.37 272.06L357.68 273.86L358.01 275.66L358.36 277.46L358.72 279.26L359.1 281.06L359.49 282.86L359.89 284.66L360.31 286.46L360.74 288.26L361.19 290.06L361.64 291.86L362.11 293.66L362.6 295.46L363.09 297.27L363.6 299.07L364.12 300.87L364.64 302.67L365.18 304.47L365.73 306.27L366.29 308.07L366.86 309.87L367.44 311.67L368.03 313.47L368.63 315.27L369.23 317.07L369.84 318.87L370.47 320.67L371.09 322.47L371.73 324.27L372.37 326.08L373.02 327.88L373.67 329.68L374.34 331.48L375 333.28L375.67 335.08L376.35 336.88L377.03 338.68L377.71 340.48L378.4 342.28L379.1 344.08L379.79 345.88L380.49 347.68L381.19 349.48L381.89 351.28L382.6 353.08L383.3 354.89L384.01 356.69L384.72 358.49L385.43 360.29L386.14 362.09L386.85 363.89L387.56 365.69L388.27 367.49L388.98 369.29L389.68 371.09L390.39 372.89L391.09 374.69L391.79 376.49L392.49 378.29L393.19 380.09L393.88 381.89L394.57 383.7L395.25 385.5L395.93 387.3L396.61 389.1L397.28 390.9L397.94 392.7L398.6 394.5L399.26 396.3" fill="none" stroke="#e8383d" stroke-width="1.7" stroke-linejoin="round" stroke-linecap="round"/>
<path d="M307.9 396.3L307.9 394.8L307.92 393.3L307.94 391.82L307.97 390.33L308.01 388.86L308.06 387.38L308.12 385.92L308.19 384.45L308.27 382.99L308.35 381.53L308.45 380.07L308.55 378.61L308.67 377.15L308.79 375.69L308.92 374.24L309.06 372.78L309.21 371.32L309.37 369.85L309.54 368.39L309.72 366.92L309.9 365.45L310.1 363.97L310.3 362.49L310.51 361L310.74 359.5L310.97 358L311.21 356.49L311.46 354.98L311.72 353.45L311.98 351.92L312.26 350.37L312.55 348.82L312.84 347.26L313.15 345.68L313.46 344.09L313.78 342.49L314.11 340.88L314.45 339.25L314.8 337.61L315.16 335.96L315.53 334.29L315.91 332.6L316.29 330.9L316.69 329.18L317.09 327.45L317.5 325.69L317.93 323.92L318.36 322.13L318.8 320.32L319.25 318.49L319.71 316.63L320.17 314.76L320.65 312.86L321.14 310.95L321.63 309L322.13 307.04L322.65 305.05L323.17 303.04L323.7 301L324.24 298.93L324.79 296.84L325.35 294.72L325.91 292.58L326.49 290.41L327.08 288.2L327.67 285.97L328.28 283.71L328.89 281.42L329.51 279.1L330.14 276.74L330.78 274.36L331.43 271.94L332.09 269.49L332.75 267L333.43 264.48L334.12 261.93L334.81 259.34L335.51 256.71L336.23 254.05L336.23 254.05L338.56 286.77L338.85 288.62L339.15 290.48L339.45 292.34L339.76 294.19L340.08 296.05L340.4 297.91L340.73 299.76L341.06 301.62L341.4 303.48L341.74 305.33L342.09 307.19L342.44 309.05L342.8 310.9L343.17 312.76L343.54 314.61L343.91 316.47L344.29 318.33L344.68 320.18L345.06 322.04L345.46 323.9L345.86 325.75L346.26 327.61L346.66 329.47L347.07 331.32L347.49 333.18L347.91 335.04L348.33 336.89L348.76 338.75L349.19 340.61L349.62 342.46L350.06 344.32L350.5 346.17L350.94 348.03L351.39 349.89L351.84 351.74L352.29 353.6L352.75 355.46L353.21 357.31L353.67 359.17L354.14 361.03L354.61 362.88L355.08 364.74L355.55 366.6L356.03 368.45L356.51 370.31L356.99 372.17L357.47 374.02L357.95 375.88L358.44 377.74L358.93 379.59L359.42 381.45L359.91 383.3L360.4 385.16L360.9 387.02L361.39 388.87L361.89 390.73L362.39 392.59L362.89 394.44L363.39 396.3" fill="none" stroke="#2563b8" stroke-width="1.7" stroke-linejoin="round" stroke-linecap="round"/>
<path d="M307.9 396.3L307.9 395.34L307.91 394.36L307.92 393.36L307.94 392.34L307.96 391.3L307.98 390.23L308.01 389.15L308.04 388.04L308.08 386.91L308.13 385.76L308.17 384.58L308.23 383.39L308.28 382.17L308.34 380.93L308.41 379.67L308.48 378.39L308.55 377.09L308.63 375.76L308.72 374.42L308.8 373.05L308.9 371.66L308.99 370.25L309.1 368.82L309.2 367.36L309.31 365.88L309.43 364.39L309.55 362.87L309.67 361.33L309.8 359.76L309.93 358.18L310.07 356.57L310.21 354.95L310.36 353.3L310.51 351.63L310.67 349.93L310.83 348.22L310.99 346.48L311.16 344.73L311.34 342.95L311.52 341.15L311.7 339.32L311.89 337.48L312.08 335.61L312.27 333.73L312.48 331.82L312.68 329.89L312.89 327.94L313.11 325.96L313.33 323.97L313.55 321.95L313.78 319.91L314.01 317.85L314.25 315.77L314.49 313.67L314.74 311.54L314.99 309.39L315.24 307.23L315.5 305.04L315.77 302.82L316.03 300.59L316.31 298.34L316.59 296.06L316.87 293.76L317.16 291.44L317.45 289.1L317.74 286.74L318.04 284.35L318.35 281.95L318.66 279.52L318.97 277.07L319.29 274.6L319.61 272.11L319.94 269.59L320.27 267.05L320.61 264.5L320.95 261.92L321.3 259.32L321.65 256.69L322 254.05L322 254.05L323.23 286.77L323.27 288.62L323.33 290.48L323.4 292.34L323.49 294.19L323.59 296.05L323.7 297.91L323.82 299.76L323.96 301.62L324.1 303.48L324.26 305.33L324.42 307.19L324.6 309.05L324.78 310.9L324.98 312.76L325.18 314.61L325.39 316.47L325.61 318.33L325.83 320.18L326.07 322.04L326.31 323.9L326.55 325.75L326.8 327.61L327.05 329.47L327.31 331.32L327.58 333.18L327.84 335.04L328.11 336.89L328.39 338.75L328.66 340.61L328.94 342.46L329.22 344.32L329.5 346.17L329.78 348.03L330.06 349.89L330.34 351.74L330.62 353.6L330.9 355.46L331.18 357.31L331.46 359.17L331.73 361.03L332 362.88L332.27 364.74L332.54 366.6L332.8 368.45L333.05 370.31L333.3 372.17L333.55 374.02L333.79 375.88L334.02 377.74L334.25 379.59L334.47 381.45L334.68 383.3L334.89 385.16L335.08 387.02L335.27 388.87L335.45 390.73L335.61 392.59L335.77 394.44L335.92 396.3" fill="none" stroke="#2aa263" stroke-width="1.7" stroke-linejoin="round" stroke-linecap="round"/>
<path d="M307.9 396.3L310.97 325.18L314.89 254.05L314.89 254.05L315.38 284.92L315.43 286.81L315.47 288.69L315.52 290.58L315.58 292.47L315.63 294.36L315.69 296.25L315.75 298.13L315.82 300.02L315.88 301.91L315.95 303.8L316.02 305.68L316.1 307.57L316.18 309.46L316.26 311.35L316.34 313.24L316.42 315.12L316.51 317.01L316.6 318.9L316.7 320.79L316.79 322.67L316.89 324.56L316.99 326.45L317.09 328.34L317.2 330.23L317.3 332.11L317.41 334L317.53 335.89L317.64 337.78L317.76 339.67L317.88 341.55L318 343.44L318.13 345.33L318.25 347.22L318.38 349.1L318.51 350.99L318.65 352.88L318.78 354.77L318.92 356.66L319.06 358.54L319.2 360.43L319.35 362.32L319.49 364.21L319.64 366.09L319.79 367.98L319.95 369.87L320.1 371.76L320.26 373.65L320.42 375.53L320.58 377.42L320.75 379.31L320.91 381.2L321.08 383.09L321.25 384.97L321.42 386.86L321.59 388.75L321.77 390.64L321.95 392.52L322.13 394.41L322.31 396.3" fill="none" stroke="#8f6bcb" stroke-width="1.7" stroke-linejoin="round" stroke-linecap="round"/>
<path d="M307.9 396.3L310.05 325.18L312.93 254.05L312.93 254.05L313.91 325.03L313.98 326.24L314.06 327.45L314.13 328.66L314.21 329.86L314.28 331.07L314.36 332.28L314.43 333.49L314.5 334.7L314.58 335.9L314.65 337.11L314.72 338.32L314.79 339.53L314.87 340.74L314.94 341.94L315.01 343.15L315.08 344.36L315.15 345.57L315.22 346.78L315.29 347.98L315.36 349.19L315.43 350.4L315.5 351.61L315.57 352.81L315.64 354.02L315.71 355.23L315.78 356.44L315.85 357.65L315.92 358.85L315.98 360.06L316.05 361.27L316.12 362.48L316.19 363.69L316.25 364.89L316.32 366.1L316.39 367.31L316.45 368.52L316.52 369.73L316.58 370.93L316.65 372.14L316.71 373.35L316.78 374.56L316.84 375.77L316.91 376.97L316.97 378.18L317.03 379.39L317.1 380.6L317.16 381.8L317.22 383.01L317.28 384.22L317.35 385.43L317.41 386.64L317.47 387.84L317.53 389.05L317.59 390.26L317.65 391.47L317.71 392.68L317.77 393.88L317.83 395.09L317.89 396.3" fill="none" stroke="#c98e3a" stroke-width="1.7" stroke-linejoin="round" stroke-linecap="round"/>
<path d="M578.1 396.3 v-3 M613.95 396.3 v-3 M649.8 396.3 v-3 M685.65 396.3 v-3 M721.5 396.3 v-3 M757.35 396.3 v-3 M793.2 396.3 v-3 M596.02 396.3 v-2 M631.88 396.3 v-2 M667.73 396.3 v-2 M703.58 396.3 v-2 M739.43 396.3 v-2 M775.28 396.3 v-2 M578.1 396.3 h3 M578.1 361.78 h3 M578.1 327.26 h3 M578.1 292.74 h3 M578.1 258.22 h3 M578.1 223.7 h3 M578.1 379.04 h2 M578.1 344.52 h2 M578.1 310 h2 M578.1 275.48 h2 M578.1 240.96 h2" stroke="#3c3c3c" stroke-width="1.1" fill="none"/>
<rect x="578.1" y="223.7" width="215.1" height="172.6" fill="none" stroke="#3c3c3c" stroke-width="1.6"/>
<text x="0" y="0" font-size="10" text-anchor="middle" transform="translate(578.1 407.9) scale(0.93 1)">0</text>
<text x="0" y="0" font-size="10" text-anchor="middle" transform="translate(613.95 407.9) scale(0.93 1)">2</text>
<text x="0" y="0" font-size="10" text-anchor="middle" transform="translate(649.8 407.9) scale(0.93 1)">4</text>
<text x="0" y="0" font-size="10" text-anchor="middle" transform="translate(685.65 407.9) scale(0.93 1)">6</text>
<text x="0" y="0" font-size="10" text-anchor="middle" transform="translate(721.5 407.9) scale(0.93 1)">8</text>
<text x="0" y="0" font-size="10" text-anchor="middle" transform="translate(757.35 407.9) scale(0.93 1)">10</text>
<text x="0" y="0" font-size="10" text-anchor="middle" transform="translate(793.2 407.9) scale(0.93 1)">12</text>
<text x="0" y="0" font-size="10" text-anchor="end" transform="translate(574.8 399.7)">0</text>
<text x="0" y="0" font-size="10" text-anchor="end" transform="translate(574.8 365.18)">50</text>
<text x="0" y="0" font-size="10" text-anchor="end" transform="translate(574.8 330.66)">100</text>
<text x="0" y="0" font-size="10" text-anchor="end" transform="translate(574.8 296.14)">150</text>
<text x="0" y="0" font-size="10" text-anchor="end" transform="translate(574.8 261.62)">200</text>
<text x="0" y="0" font-size="10" text-anchor="end" transform="translate(574.8 227.1)">250</text>
<text x="686.65" y="420.7" font-size="9.6" text-anchor="middle" textLength="92" lengthAdjust="spacingAndGlyphs">Current density / (A<tspan dx="0.8">&#8226;</tspan><tspan dx="0.8">g</tspan><tspan font-size="6" dy="-4">&#8722;1</tspan><tspan dy="4">)</tspan></text>
<text x="0" y="0" font-size="9.6" text-anchor="middle" textLength="111" lengthAdjust="spacingAndGlyphs" transform="translate(553 310) rotate(-90)">Specific capacitance / (F<tspan dx="0.8">&#8226;</tspan><tspan dx="0.8">g</tspan><tspan font-size="6" dy="-4">&#8722;1</tspan><tspan dy="4">)</tspan></text>
<text x="591.6" y="238.6" font-size="12" text-anchor="start">(f)</text>
<path d="M596.02 330.37L613.95 347.21L631.88 363.51L667.73 379.32L721.5 386.7L757.35 388.71" fill="none" stroke="#454545" stroke-width="1.7"/>
<rect x="592.82" y="327.17" width="6.4" height="6.4" fill="#454545"/>
<rect x="610.75" y="344.01" width="6.4" height="6.4" fill="#454545"/>
<rect x="628.67" y="360.31" width="6.4" height="6.4" fill="#454545"/>
<rect x="664.52" y="376.12" width="6.4" height="6.4" fill="#454545"/>
<rect x="718.3" y="383.5" width="6.4" height="6.4" fill="#454545"/>
<rect x="754.15" y="385.51" width="6.4" height="6.4" fill="#454545"/>
<path d="M596.02 252.7L613.95 273.41L631.88 281.69L667.73 293.09L721.5 305.37L757.35 312.28" fill="none" stroke="#e8383d" stroke-width="1.7"/>
<circle cx="596.02" cy="252.7" r="3.4" fill="#e8383d"/>
<circle cx="613.95" cy="273.41" r="3.4" fill="#e8383d"/>
<circle cx="631.88" cy="281.69" r="3.4" fill="#e8383d"/>
<circle cx="667.73" cy="293.09" r="3.4" fill="#e8383d"/>
<circle cx="721.5" cy="305.37" r="3.4" fill="#e8383d"/>
<circle cx="757.35" cy="312.28" r="3.4" fill="#e8383d"/>
<path d="M596.02 263.05L613.95 270.65L631.88 272.03L667.73 275.48L721.5 279.62L757.35 281.28" fill="none" stroke="#2563b8" stroke-width="1.7"/>
<path d="M596.02 259.4L599.7 265.48L592.35 265.48Z" fill="#2563b8"/>
<path d="M613.95 267L617.63 273.08L610.27 273.08Z" fill="#2563b8"/>
<path d="M631.88 268.38L635.55 274.46L628.2 274.46Z" fill="#2563b8"/>
<path d="M667.73 271.83L671.4 277.91L664.05 277.91Z" fill="#2563b8"/>
<path d="M721.5 275.97L725.18 282.05L717.82 282.05Z" fill="#2563b8"/>
<path d="M757.35 277.63L761.03 283.71L753.67 283.71Z" fill="#2563b8"/>
<path d="M596.02 278.93L613.95 289.29L631.88 296.88L667.73 307.38L721.5 319.18L757.35 324.77" fill="none" stroke="#2aa263" stroke-width="1.7"/>
<path d="M596.02 282.58L599.7 276.5L592.35 276.5Z" fill="#2aa263"/>
<path d="M613.95 292.94L617.63 286.86L610.27 286.86Z" fill="#2aa263"/>
<path d="M631.88 300.53L635.55 294.45L628.2 294.45Z" fill="#2aa263"/>
<path d="M667.73 311.02L671.4 304.94L664.05 304.94Z" fill="#2aa263"/>
<path d="M721.5 322.83L725.18 316.75L717.82 316.75Z" fill="#2aa263"/>
<path d="M757.35 328.42L761.03 322.34L753.67 322.34Z" fill="#2aa263"/>
<path d="M744.4 234.2H763.6" stroke="#454545" stroke-width="2"/>
<rect x="750.8" y="231" width="6.4" height="6.4" fill="#454545"/>
<text x="766.6" y="237.5" font-size="9.5" text-anchor="start" textLength="18" lengthAdjust="spacingAndGlyphs">C0M</text>
<path d="M744.4 245.7H763.6" stroke="#e8383d" stroke-width="2"/>
<circle cx="754" cy="245.7" r="3.4" fill="#e8383d"/>
<text x="766.6" y="249" font-size="9.5" text-anchor="start" textLength="18" lengthAdjust="spacingAndGlyphs">C3M</text>
<path d="M744.4 257.2H763.6" stroke="#2563b8" stroke-width="2"/>
<path d="M754 253.55L757.68 259.63L750.32 259.63Z" fill="#2563b8"/>
<text x="766.6" y="260.5" font-size="9.5" text-anchor="start" textLength="18" lengthAdjust="spacingAndGlyphs">C6M</text>
<path d="M744.4 268.7H763.6" stroke="#2aa263" stroke-width="2"/>
<path d="M754 272.35L757.68 266.27L750.32 266.27Z" fill="#2aa263"/>
<text x="766.6" y="272" font-size="9.5" text-anchor="start" textLength="18" lengthAdjust="spacingAndGlyphs">C9M</text>
</svg></body></html>
